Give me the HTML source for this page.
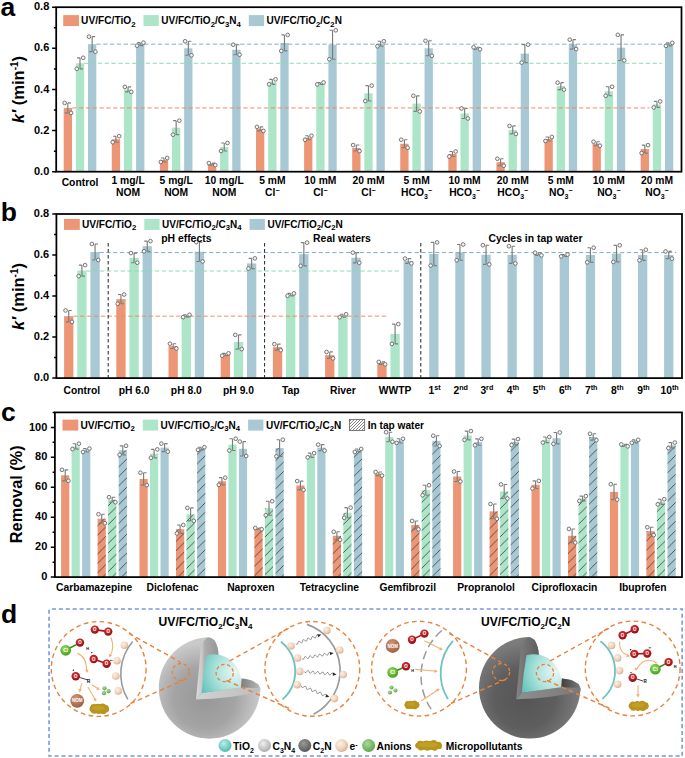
<!DOCTYPE html>
<html><head><meta charset="utf-8"><style>
html,body{margin:0;padding:0;background:#fff;width:685px;height:758px;overflow:hidden}
svg{display:block;font-family:"Liberation Sans", sans-serif}
</style></head><body>
<svg width="685" height="758" viewBox="0 0 685 758">
<defs>
<pattern id="hatch" patternUnits="userSpaceOnUse" width="9.4" height="9.4" x="0" y="3">
<path d="M-1 10.4L10.4 -1M-1 1L1 -1M8.4 10.4L10.4 8.4" stroke="#3a3a3a" stroke-width="0.8"/>
</pattern>
<pattern id="hatchL" patternUnits="userSpaceOnUse" width="3" height="3">
<path d="M0 3L3 0M-1 1L1 -1M2 4L4 2" stroke="#666" stroke-width="0.8"/>
</pattern>
<radialGradient id="sph1" gradientUnits="objectBoundingBox" cx="0.45" cy="0.6" r="0.55"><stop offset="0" stop-color="#979797"/><stop offset="0.55" stop-color="#a4a4a4"/><stop offset="1" stop-color="#cacaca"/></radialGradient>
<radialGradient id="sph2" gradientUnits="objectBoundingBox" cx="0.45" cy="0.6" r="0.55"><stop offset="0" stop-color="#555"/><stop offset="0.55" stop-color="#5e5e5e"/><stop offset="1" stop-color="#7c7c7c"/></radialGradient>
<linearGradient id="vf1" x1="0" y1="0" x2="1" y2="0"><stop offset="0" stop-color="#dcdcdc"/><stop offset="0.25" stop-color="#cacaca"/><stop offset="0.4" stop-color="#acacac"/><stop offset="1" stop-color="#959595"/></linearGradient>
<linearGradient id="vf2" x1="0" y1="0" x2="1" y2="0"><stop offset="0" stop-color="#848484"/><stop offset="0.3" stop-color="#767676"/><stop offset="1" stop-color="#5e5e5e"/></linearGradient>
<linearGradient id="hf1" x1="0" y1="0" x2="1" y2="0"><stop offset="0" stop-color="#d2d2d2"/><stop offset="1" stop-color="#bdbdbd"/></linearGradient>
<linearGradient id="hf2" x1="0" y1="0" x2="1" y2="0"><stop offset="0" stop-color="#8e8e8e"/><stop offset="1" stop-color="#7a7a7a"/></linearGradient>
<linearGradient id="is1" x1="0" y1="0" x2="1" y2="0"><stop offset="0" stop-color="#7e7e7e"/><stop offset="1" stop-color="#b8b8b8"/></linearGradient>
<linearGradient id="is2" x1="0" y1="0" x2="1" y2="0"><stop offset="0" stop-color="#3e3e3e"/><stop offset="1" stop-color="#7a7a7a"/></linearGradient>
<radialGradient id="core" gradientUnits="objectBoundingBox" cx="0.85" cy="0.45" r="1"><stop offset="0" stop-color="#e8f7f5"/><stop offset="0.5" stop-color="#ade2dc"/><stop offset="1" stop-color="#5cc0b8"/></radialGradient>
<radialGradient id="gE" cx="0.38" cy="0.35" r="0.7"><stop offset="0" stop-color="#fcf1e8"/><stop offset="0.6" stop-color="#efd2bc"/><stop offset="1" stop-color="#d9a888"/></radialGradient>
<radialGradient id="gO" cx="0.4" cy="0.35" r="0.7"><stop offset="0" stop-color="#e33a3a"/><stop offset="1" stop-color="#8c0a10"/></radialGradient>
<radialGradient id="gCl" cx="0.4" cy="0.35" r="0.7"><stop offset="0" stop-color="#9be05a"/><stop offset="1" stop-color="#3e9a1c"/></radialGradient>
<radialGradient id="gNOM" cx="0.4" cy="0.35" r="0.7"><stop offset="0" stop-color="#d59a7c"/><stop offset="1" stop-color="#9a5a3c"/></radialGradient>
<radialGradient id="gAn" cx="0.4" cy="0.35" r="0.7"><stop offset="0" stop-color="#a8dc98"/><stop offset="1" stop-color="#5aa04a"/></radialGradient>
<radialGradient id="gTiL" cx="0.4" cy="0.35" r="0.7"><stop offset="0" stop-color="#b8f0ea"/><stop offset="1" stop-color="#4cb8ae"/></radialGradient>
<radialGradient id="gC3L" cx="0.4" cy="0.35" r="0.7"><stop offset="0" stop-color="#f0f0f0"/><stop offset="1" stop-color="#a8a8a8"/></radialGradient>
<radialGradient id="gC2L" cx="0.4" cy="0.35" r="0.7"><stop offset="0" stop-color="#9a9a9a"/><stop offset="1" stop-color="#555"/></radialGradient>
</defs><rect width="685" height="758" fill="#fff"/><rect x="63.7" y="107.93" width="8.3" height="63.77" fill="#ec9676"/><rect x="75.85" y="63.3" width="8.3" height="108.4" fill="#ace5c7"/><rect x="88" y="44.17" width="8.3" height="127.53" fill="#a8c9d3"/><rect x="111.78" y="139.2" width="8.3" height="32.5" fill="#ec9676"/><rect x="123.93" y="89.42" width="8.3" height="82.28" fill="#ace5c7"/><rect x="136.08" y="44.17" width="8.3" height="127.53" fill="#a8c9d3"/><rect x="159.86" y="159.98" width="8.3" height="11.72" fill="#ec9676"/><rect x="172.01" y="127.68" width="8.3" height="44.02" fill="#ace5c7"/><rect x="184.16" y="48.28" width="8.3" height="123.42" fill="#a8c9d3"/><rect x="207.94" y="164.09" width="8.3" height="7.61" fill="#ec9676"/><rect x="220.09" y="147.02" width="8.3" height="24.68" fill="#ace5c7"/><rect x="232.24" y="49.72" width="8.3" height="121.98" fill="#a8c9d3"/><rect x="256.02" y="128.91" width="8.3" height="42.79" fill="#ec9676"/><rect x="268.17" y="81.81" width="8.3" height="89.89" fill="#ace5c7"/><rect x="280.32" y="42.93" width="8.3" height="128.77" fill="#a8c9d3"/><rect x="304.1" y="137.76" width="8.3" height="33.94" fill="#ec9676"/><rect x="316.25" y="83.45" width="8.3" height="88.25" fill="#ace5c7"/><rect x="328.4" y="44.78" width="8.3" height="126.92" fill="#a8c9d3"/><rect x="352.18" y="148.04" width="8.3" height="23.66" fill="#ec9676"/><rect x="364.33" y="93.33" width="8.3" height="78.37" fill="#ace5c7"/><rect x="376.48" y="43.75" width="8.3" height="127.95" fill="#a8c9d3"/><rect x="400.26" y="143.72" width="8.3" height="27.98" fill="#ec9676"/><rect x="412.41" y="103.61" width="8.3" height="68.09" fill="#ace5c7"/><rect x="424.56" y="48.28" width="8.3" height="123.42" fill="#a8c9d3"/><rect x="448.34" y="154.01" width="8.3" height="17.69" fill="#ec9676"/><rect x="460.49" y="113.49" width="8.3" height="58.21" fill="#ace5c7"/><rect x="472.64" y="48.28" width="8.3" height="123.42" fill="#a8c9d3"/><rect x="496.42" y="162.24" width="8.3" height="9.46" fill="#ec9676"/><rect x="508.57" y="129.94" width="8.3" height="41.76" fill="#ace5c7"/><rect x="520.72" y="53.63" width="8.3" height="118.07" fill="#a8c9d3"/><rect x="544.5" y="138.99" width="8.3" height="32.71" fill="#ec9676"/><rect x="556.65" y="86.13" width="8.3" height="85.57" fill="#ace5c7"/><rect x="568.8" y="44.37" width="8.3" height="127.33" fill="#a8c9d3"/><rect x="592.58" y="143.72" width="8.3" height="27.98" fill="#ec9676"/><rect x="604.73" y="91.27" width="8.3" height="80.43" fill="#ace5c7"/><rect x="616.88" y="47.66" width="8.3" height="124.04" fill="#a8c9d3"/><rect x="640.66" y="149.07" width="8.3" height="22.63" fill="#ec9676"/><rect x="652.81" y="104.44" width="8.3" height="67.26" fill="#ace5c7"/><rect x="664.96" y="44.37" width="8.3" height="127.33" fill="#a8c9d3"/><path d="M72.1 107.93H649.5" stroke="#e88a62" stroke-width="0.95" stroke-dasharray="4.3 2.55" fill="none"/><path d="M84.1 63.3H662" stroke="#8cd8b0" stroke-width="0.95" stroke-dasharray="4.3 2.55" fill="none"/><path d="M96.3 44.17H674" stroke="#80aabb" stroke-width="0.95" stroke-dasharray="4.3 2.55" fill="none"/><path d="M67.85 102.93V112.93M67.85 102.93H70.85M64.85 112.93H67.85" stroke="#7c7c7c" stroke-width="1.15" fill="none"/><circle cx="64.65" cy="102.93" r="1.85" fill="#f4f4f4" stroke="#595959" stroke-width="0.8"/><circle cx="71.05" cy="112.93" r="1.85" fill="#f4f4f4" stroke="#595959" stroke-width="0.8"/><path d="M80 57.8V68.8M80 57.8H77M83 68.8H80" stroke="#7c7c7c" stroke-width="1.15" fill="none"/><circle cx="83.2" cy="57.8" r="1.85" fill="#f4f4f4" stroke="#595959" stroke-width="0.8"/><circle cx="76.8" cy="68.8" r="1.85" fill="#f4f4f4" stroke="#595959" stroke-width="0.8"/><path d="M92.15 36.67V51.67M92.15 36.67H95.15M89.15 51.67H92.15" stroke="#7c7c7c" stroke-width="1.15" fill="none"/><circle cx="88.95" cy="36.67" r="1.85" fill="#f4f4f4" stroke="#595959" stroke-width="0.8"/><circle cx="95.35" cy="51.67" r="1.85" fill="#f4f4f4" stroke="#595959" stroke-width="0.8"/><path d="M115.93 136.2V142.2M115.93 136.2H112.93M118.93 142.2H115.93" stroke="#7c7c7c" stroke-width="1.15" fill="none"/><circle cx="119.13" cy="136.2" r="1.85" fill="#f4f4f4" stroke="#595959" stroke-width="0.8"/><circle cx="112.73" cy="142.2" r="1.85" fill="#f4f4f4" stroke="#595959" stroke-width="0.8"/><path d="M128.08 86.92V91.92M128.08 86.92H131.08M125.08 91.92H128.08" stroke="#7c7c7c" stroke-width="1.15" fill="none"/><circle cx="124.88" cy="86.92" r="1.85" fill="#f4f4f4" stroke="#595959" stroke-width="0.8"/><circle cx="131.28" cy="91.92" r="1.85" fill="#f4f4f4" stroke="#595959" stroke-width="0.8"/><path d="M140.23 42.67V45.67M140.23 42.67H137.23M143.23 45.67H140.23" stroke="#7c7c7c" stroke-width="1.15" fill="none"/><circle cx="143.43" cy="42.67" r="1.85" fill="#f4f4f4" stroke="#595959" stroke-width="0.8"/><circle cx="137.03" cy="45.67" r="1.85" fill="#f4f4f4" stroke="#595959" stroke-width="0.8"/><path d="M164.01 157.98V161.98M164.01 157.98H161.01M167.01 161.98H164.01" stroke="#7c7c7c" stroke-width="1.15" fill="none"/><circle cx="167.21" cy="157.98" r="1.85" fill="#f4f4f4" stroke="#595959" stroke-width="0.8"/><circle cx="160.81" cy="161.98" r="1.85" fill="#f4f4f4" stroke="#595959" stroke-width="0.8"/><path d="M176.16 120.68V134.68M176.16 120.68H173.16M179.16 134.68H176.16" stroke="#7c7c7c" stroke-width="1.15" fill="none"/><circle cx="179.36" cy="120.68" r="1.85" fill="#f4f4f4" stroke="#595959" stroke-width="0.8"/><circle cx="172.96" cy="134.68" r="1.85" fill="#f4f4f4" stroke="#595959" stroke-width="0.8"/><path d="M188.31 41.28V55.28M188.31 41.28H191.31M185.31 55.28H188.31" stroke="#7c7c7c" stroke-width="1.15" fill="none"/><circle cx="185.11" cy="41.28" r="1.85" fill="#f4f4f4" stroke="#595959" stroke-width="0.8"/><circle cx="191.51" cy="55.28" r="1.85" fill="#f4f4f4" stroke="#595959" stroke-width="0.8"/><path d="M212.09 163.09V165.09M212.09 163.09H215.09M209.09 165.09H212.09" stroke="#7c7c7c" stroke-width="1.15" fill="none"/><circle cx="208.89" cy="163.09" r="1.85" fill="#f4f4f4" stroke="#595959" stroke-width="0.8"/><circle cx="215.29" cy="165.09" r="1.85" fill="#f4f4f4" stroke="#595959" stroke-width="0.8"/><path d="M224.24 143.02V151.02M224.24 143.02H221.24M227.24 151.02H224.24" stroke="#7c7c7c" stroke-width="1.15" fill="none"/><circle cx="227.44" cy="143.02" r="1.85" fill="#f4f4f4" stroke="#595959" stroke-width="0.8"/><circle cx="221.04" cy="151.02" r="1.85" fill="#f4f4f4" stroke="#595959" stroke-width="0.8"/><path d="M236.39 44.72V54.72M236.39 44.72H239.39M233.39 54.72H236.39" stroke="#7c7c7c" stroke-width="1.15" fill="none"/><circle cx="233.19" cy="44.72" r="1.85" fill="#f4f4f4" stroke="#595959" stroke-width="0.8"/><circle cx="239.59" cy="54.72" r="1.85" fill="#f4f4f4" stroke="#595959" stroke-width="0.8"/><path d="M260.17 126.91V130.91M260.17 126.91H263.17M257.17 130.91H260.17" stroke="#7c7c7c" stroke-width="1.15" fill="none"/><circle cx="256.97" cy="126.91" r="1.85" fill="#f4f4f4" stroke="#595959" stroke-width="0.8"/><circle cx="263.37" cy="130.91" r="1.85" fill="#f4f4f4" stroke="#595959" stroke-width="0.8"/><path d="M272.32 79.31V84.31M272.32 79.31H269.32M275.32 84.31H272.32" stroke="#7c7c7c" stroke-width="1.15" fill="none"/><circle cx="275.52" cy="79.31" r="1.85" fill="#f4f4f4" stroke="#595959" stroke-width="0.8"/><circle cx="269.12" cy="84.31" r="1.85" fill="#f4f4f4" stroke="#595959" stroke-width="0.8"/><path d="M284.47 34.93V50.93M284.47 34.93H281.47M287.47 50.93H284.47" stroke="#7c7c7c" stroke-width="1.15" fill="none"/><circle cx="287.67" cy="34.93" r="1.85" fill="#f4f4f4" stroke="#595959" stroke-width="0.8"/><circle cx="281.27" cy="50.93" r="1.85" fill="#f4f4f4" stroke="#595959" stroke-width="0.8"/><path d="M308.25 135.76V139.76M308.25 135.76H305.25M311.25 139.76H308.25" stroke="#7c7c7c" stroke-width="1.15" fill="none"/><circle cx="311.45" cy="135.76" r="1.85" fill="#f4f4f4" stroke="#595959" stroke-width="0.8"/><circle cx="305.05" cy="139.76" r="1.85" fill="#f4f4f4" stroke="#595959" stroke-width="0.8"/><path d="M320.4 82.45V84.45M320.4 82.45H317.4M323.4 84.45H320.4" stroke="#7c7c7c" stroke-width="1.15" fill="none"/><circle cx="323.6" cy="82.45" r="1.85" fill="#f4f4f4" stroke="#595959" stroke-width="0.8"/><circle cx="317.2" cy="84.45" r="1.85" fill="#f4f4f4" stroke="#595959" stroke-width="0.8"/><path d="M332.55 30.28V59.28M332.55 30.28H329.55M335.55 59.28H332.55" stroke="#7c7c7c" stroke-width="1.15" fill="none"/><circle cx="335.75" cy="30.28" r="1.85" fill="#f4f4f4" stroke="#595959" stroke-width="0.8"/><circle cx="329.35" cy="59.28" r="1.85" fill="#f4f4f4" stroke="#595959" stroke-width="0.8"/><path d="M356.33 145.04V151.04M356.33 145.04H359.33M353.33 151.04H356.33" stroke="#7c7c7c" stroke-width="1.15" fill="none"/><circle cx="353.13" cy="145.04" r="1.85" fill="#f4f4f4" stroke="#595959" stroke-width="0.8"/><circle cx="359.53" cy="151.04" r="1.85" fill="#f4f4f4" stroke="#595959" stroke-width="0.8"/><path d="M368.48 85.63V101.03M368.48 85.63H365.48M371.48 101.03H368.48" stroke="#7c7c7c" stroke-width="1.15" fill="none"/><circle cx="371.68" cy="85.63" r="1.85" fill="#f4f4f4" stroke="#595959" stroke-width="0.8"/><circle cx="365.28" cy="101.03" r="1.85" fill="#f4f4f4" stroke="#595959" stroke-width="0.8"/><path d="M380.63 41.25V46.25M380.63 41.25H377.63M383.63 46.25H380.63" stroke="#7c7c7c" stroke-width="1.15" fill="none"/><circle cx="383.83" cy="41.25" r="1.85" fill="#f4f4f4" stroke="#595959" stroke-width="0.8"/><circle cx="377.43" cy="46.25" r="1.85" fill="#f4f4f4" stroke="#595959" stroke-width="0.8"/><path d="M404.41 139.72V147.72M404.41 139.72H407.41M401.41 147.72H404.41" stroke="#7c7c7c" stroke-width="1.15" fill="none"/><circle cx="401.21" cy="139.72" r="1.85" fill="#f4f4f4" stroke="#595959" stroke-width="0.8"/><circle cx="407.61" cy="147.72" r="1.85" fill="#f4f4f4" stroke="#595959" stroke-width="0.8"/><path d="M416.56 95.81V111.41M416.56 95.81H419.56M413.56 111.41H416.56" stroke="#7c7c7c" stroke-width="1.15" fill="none"/><circle cx="413.36" cy="95.81" r="1.85" fill="#f4f4f4" stroke="#595959" stroke-width="0.8"/><circle cx="419.76" cy="111.41" r="1.85" fill="#f4f4f4" stroke="#595959" stroke-width="0.8"/><path d="M428.71 40.78V55.78M428.71 40.78H431.71M425.71 55.78H428.71" stroke="#7c7c7c" stroke-width="1.15" fill="none"/><circle cx="425.51" cy="40.78" r="1.85" fill="#f4f4f4" stroke="#595959" stroke-width="0.8"/><circle cx="431.91" cy="55.78" r="1.85" fill="#f4f4f4" stroke="#595959" stroke-width="0.8"/><path d="M452.49 151.51V156.51M452.49 151.51H449.49M455.49 156.51H452.49" stroke="#7c7c7c" stroke-width="1.15" fill="none"/><circle cx="455.69" cy="151.51" r="1.85" fill="#f4f4f4" stroke="#595959" stroke-width="0.8"/><circle cx="449.29" cy="156.51" r="1.85" fill="#f4f4f4" stroke="#595959" stroke-width="0.8"/><path d="M464.64 108.49V118.49M464.64 108.49H467.64M461.64 118.49H464.64" stroke="#7c7c7c" stroke-width="1.15" fill="none"/><circle cx="461.44" cy="108.49" r="1.85" fill="#f4f4f4" stroke="#595959" stroke-width="0.8"/><circle cx="467.84" cy="118.49" r="1.85" fill="#f4f4f4" stroke="#595959" stroke-width="0.8"/><path d="M476.79 47.28V49.28M476.79 47.28H479.79M473.79 49.28H476.79" stroke="#7c7c7c" stroke-width="1.15" fill="none"/><circle cx="473.59" cy="47.28" r="1.85" fill="#f4f4f4" stroke="#595959" stroke-width="0.8"/><circle cx="479.99" cy="49.28" r="1.85" fill="#f4f4f4" stroke="#595959" stroke-width="0.8"/><path d="M500.57 158.74V165.74M500.57 158.74H503.57M497.57 165.74H500.57" stroke="#7c7c7c" stroke-width="1.15" fill="none"/><circle cx="497.37" cy="158.74" r="1.85" fill="#f4f4f4" stroke="#595959" stroke-width="0.8"/><circle cx="503.77" cy="165.74" r="1.85" fill="#f4f4f4" stroke="#595959" stroke-width="0.8"/><path d="M512.72 125.94V133.94M512.72 125.94H515.72M509.72 133.94H512.72" stroke="#7c7c7c" stroke-width="1.15" fill="none"/><circle cx="509.52" cy="125.94" r="1.85" fill="#f4f4f4" stroke="#595959" stroke-width="0.8"/><circle cx="515.92" cy="133.94" r="1.85" fill="#f4f4f4" stroke="#595959" stroke-width="0.8"/><path d="M524.87 44.63V62.63M524.87 44.63H521.87M527.87 62.63H524.87" stroke="#7c7c7c" stroke-width="1.15" fill="none"/><circle cx="528.07" cy="44.63" r="1.85" fill="#f4f4f4" stroke="#595959" stroke-width="0.8"/><circle cx="521.67" cy="62.63" r="1.85" fill="#f4f4f4" stroke="#595959" stroke-width="0.8"/><path d="M548.65 136.99V140.99M548.65 136.99H545.65M551.65 140.99H548.65" stroke="#7c7c7c" stroke-width="1.15" fill="none"/><circle cx="551.85" cy="136.99" r="1.85" fill="#f4f4f4" stroke="#595959" stroke-width="0.8"/><circle cx="545.45" cy="140.99" r="1.85" fill="#f4f4f4" stroke="#595959" stroke-width="0.8"/><path d="M560.8 82.63V89.63M560.8 82.63H563.8M557.8 89.63H560.8" stroke="#7c7c7c" stroke-width="1.15" fill="none"/><circle cx="557.6" cy="82.63" r="1.85" fill="#f4f4f4" stroke="#595959" stroke-width="0.8"/><circle cx="564" cy="89.63" r="1.85" fill="#f4f4f4" stroke="#595959" stroke-width="0.8"/><path d="M572.95 39.67V49.07M572.95 39.67H575.95M569.95 49.07H572.95" stroke="#7c7c7c" stroke-width="1.15" fill="none"/><circle cx="569.75" cy="39.67" r="1.85" fill="#f4f4f4" stroke="#595959" stroke-width="0.8"/><circle cx="576.15" cy="49.07" r="1.85" fill="#f4f4f4" stroke="#595959" stroke-width="0.8"/><path d="M596.73 141.72V145.72M596.73 141.72H599.73M593.73 145.72H596.73" stroke="#7c7c7c" stroke-width="1.15" fill="none"/><circle cx="593.53" cy="141.72" r="1.85" fill="#f4f4f4" stroke="#595959" stroke-width="0.8"/><circle cx="599.93" cy="145.72" r="1.85" fill="#f4f4f4" stroke="#595959" stroke-width="0.8"/><path d="M608.88 86.77V95.77M608.88 86.77H605.88M611.88 95.77H608.88" stroke="#7c7c7c" stroke-width="1.15" fill="none"/><circle cx="612.08" cy="86.77" r="1.85" fill="#f4f4f4" stroke="#595959" stroke-width="0.8"/><circle cx="605.68" cy="95.77" r="1.85" fill="#f4f4f4" stroke="#595959" stroke-width="0.8"/><path d="M621.03 34.86V60.46M621.03 34.86H624.03M618.03 60.46H621.03" stroke="#7c7c7c" stroke-width="1.15" fill="none"/><circle cx="617.83" cy="34.86" r="1.85" fill="#f4f4f4" stroke="#595959" stroke-width="0.8"/><circle cx="624.23" cy="60.46" r="1.85" fill="#f4f4f4" stroke="#595959" stroke-width="0.8"/><path d="M644.81 145.07V153.07M644.81 145.07H641.81M647.81 153.07H644.81" stroke="#7c7c7c" stroke-width="1.15" fill="none"/><circle cx="648.01" cy="145.07" r="1.85" fill="#f4f4f4" stroke="#595959" stroke-width="0.8"/><circle cx="641.61" cy="153.07" r="1.85" fill="#f4f4f4" stroke="#595959" stroke-width="0.8"/><path d="M656.96 101.44V107.44M656.96 101.44H653.96M659.96 107.44H656.96" stroke="#7c7c7c" stroke-width="1.15" fill="none"/><circle cx="660.16" cy="101.44" r="1.85" fill="#f4f4f4" stroke="#595959" stroke-width="0.8"/><circle cx="653.76" cy="107.44" r="1.85" fill="#f4f4f4" stroke="#595959" stroke-width="0.8"/><path d="M669.11 42.87V45.87M669.11 42.87H666.11M672.11 45.87H669.11" stroke="#7c7c7c" stroke-width="1.15" fill="none"/><circle cx="672.31" cy="42.87" r="1.85" fill="#f4f4f4" stroke="#595959" stroke-width="0.8"/><circle cx="665.91" cy="45.87" r="1.85" fill="#f4f4f4" stroke="#595959" stroke-width="0.8"/><rect x="56.2" y="7.2" width="625.3" height="164.5" fill="none" stroke="#000" stroke-width="1.75"/><path d="M52.1 171.7H56.2M53.9 151.14H56.2M52.1 130.57H56.2M53.9 110.01H56.2M52.1 89.45H56.2M53.9 68.89H56.2M52.1 48.32H56.2M53.9 27.76H56.2M52.1 7.2H56.2" stroke="#000" stroke-width="1.5" fill="none"/><text x="49.3" y="174.8" font-size="11" text-anchor="end" font-weight="bold">0.0</text><text x="49.3" y="133.67" font-size="11" text-anchor="end" font-weight="bold">0.2</text><text x="49.3" y="92.55" font-size="11" text-anchor="end" font-weight="bold">0.4</text><text x="49.3" y="51.42" font-size="11" text-anchor="end" font-weight="bold">0.6</text><text x="49.3" y="10.3" font-size="11" text-anchor="end" font-weight="bold">0.8</text><rect x="63.2" y="15.1" width="15.8" height="11" fill="#ec9676"/><text x="81.1" y="24.3" font-size="10.4" font-weight="bold" textLength="54.4" lengthAdjust="spacingAndGlyphs">UV/FC/TiO<tspan dy="2.2" font-size="8">2</tspan></text><rect x="143.5" y="15.1" width="15.3" height="11" fill="#ace5c7"/><text x="161.3" y="24.3" font-size="10.4" font-weight="bold" textLength="79.5" lengthAdjust="spacingAndGlyphs">UV/FC/TiO<tspan dy="2.2" font-size="8">2</tspan><tspan dy="-2.2">/C</tspan><tspan dy="2.2" font-size="8">3</tspan><tspan dy="-2.2">N</tspan><tspan dy="2.2" font-size="8">4</tspan></text><rect x="248.8" y="15.1" width="15.3" height="11" fill="#a8c9d3"/><text x="266.6" y="24.3" font-size="10.4" font-weight="bold" textLength="75.3" lengthAdjust="spacingAndGlyphs">UV/FC/TiO<tspan dy="2.2" font-size="8">2</tspan><tspan dy="-2.2">/C</tspan><tspan dy="2.2" font-size="8">2</tspan><tspan dy="-2.2">N</tspan></text><text x="80" y="185.5" font-size="10.3" text-anchor="middle" font-weight="bold">Control</text><text x="128.08" y="184.4" font-size="10.3" text-anchor="middle" font-weight="bold">1 mg/L</text><text x="128.08" y="196.4" font-size="10.3" text-anchor="middle" font-weight="bold">NOM</text><text x="176.16" y="184.4" font-size="10.3" text-anchor="middle" font-weight="bold">5 mg/L</text><text x="176.16" y="196.4" font-size="10.3" text-anchor="middle" font-weight="bold">NOM</text><text x="224.24" y="184.4" font-size="10.3" text-anchor="middle" font-weight="bold">10 mg/L</text><text x="224.24" y="196.4" font-size="10.3" text-anchor="middle" font-weight="bold">NOM</text><text x="272.32" y="184.4" font-size="10.3" text-anchor="middle" font-weight="bold">5 mM</text><text x="272.32" y="196.4" font-size="10.3" text-anchor="middle" font-weight="bold">Cl<tspan font-size="7" dy="-3.5">&#8722;</tspan></text><text x="320.4" y="184.4" font-size="10.3" text-anchor="middle" font-weight="bold">10 mM</text><text x="320.4" y="196.4" font-size="10.3" text-anchor="middle" font-weight="bold">Cl<tspan font-size="7" dy="-3.5">&#8722;</tspan></text><text x="368.48" y="184.4" font-size="10.3" text-anchor="middle" font-weight="bold">20 mM</text><text x="368.48" y="196.4" font-size="10.3" text-anchor="middle" font-weight="bold">Cl<tspan font-size="7" dy="-3.5">&#8722;</tspan></text><text x="416.56" y="184.4" font-size="10.3" text-anchor="middle" font-weight="bold">5 mM</text><text x="416.56" y="196.4" font-size="10.3" text-anchor="middle" font-weight="bold">HCO<tspan font-size="7" dy="2.5">3</tspan><tspan font-size="7" dy="-6">&#8722;</tspan></text><text x="464.64" y="184.4" font-size="10.3" text-anchor="middle" font-weight="bold">10 mM</text><text x="464.64" y="196.4" font-size="10.3" text-anchor="middle" font-weight="bold">HCO<tspan font-size="7" dy="2.5">3</tspan><tspan font-size="7" dy="-6">&#8722;</tspan></text><text x="512.72" y="184.4" font-size="10.3" text-anchor="middle" font-weight="bold">20 mM</text><text x="512.72" y="196.4" font-size="10.3" text-anchor="middle" font-weight="bold">HCO<tspan font-size="7" dy="2.5">3</tspan><tspan font-size="7" dy="-6">&#8722;</tspan></text><text x="560.8" y="184.4" font-size="10.3" text-anchor="middle" font-weight="bold">5 mM</text><text x="560.8" y="196.4" font-size="10.3" text-anchor="middle" font-weight="bold">NO<tspan font-size="7" dy="2.5">3</tspan><tspan font-size="7" dy="-6">&#8722;</tspan></text><text x="608.88" y="184.4" font-size="10.3" text-anchor="middle" font-weight="bold">10 mM</text><text x="608.88" y="196.4" font-size="10.3" text-anchor="middle" font-weight="bold">NO<tspan font-size="7" dy="2.5">3</tspan><tspan font-size="7" dy="-6">&#8722;</tspan></text><text x="656.96" y="184.4" font-size="10.3" text-anchor="middle" font-weight="bold">20 mM</text><text x="656.96" y="196.4" font-size="10.3" text-anchor="middle" font-weight="bold">NO<tspan font-size="7" dy="2.5">3</tspan><tspan font-size="7" dy="-6">&#8722;</tspan></text><text transform="translate(24.3 89.4) rotate(-90)" font-size="16.5" text-anchor="middle" font-weight="bold"><tspan font-style="italic">k&#8242;</tspan> (min<tspan font-size="10" dy="-6">-1</tspan><tspan dy="6">)</tspan></text><text x="0.6" y="16" font-size="26.5" text-anchor="start" font-weight="bold">a</text><rect x="64.1" y="316.16" width="9.3" height="61.94" fill="#ec9676"/><rect x="77.25" y="270.63" width="9.3" height="107.47" fill="#ace5c7"/><rect x="90.4" y="251.96" width="9.3" height="126.14" fill="#a8c9d3"/><rect x="116.3" y="299.14" width="9.3" height="78.96" fill="#ec9676"/><rect x="129.45" y="257.91" width="9.3" height="120.19" fill="#ace5c7"/><rect x="142.6" y="246.22" width="9.3" height="131.88" fill="#a8c9d3"/><rect x="168.5" y="346.1" width="9.3" height="32" fill="#ec9676"/><rect x="181.65" y="315.95" width="9.3" height="62.15" fill="#ace5c7"/><rect x="194.8" y="251.76" width="9.3" height="126.34" fill="#a8c9d3"/><rect x="220.7" y="354.51" width="9.3" height="23.59" fill="#ec9676"/><rect x="233.85" y="342" width="9.3" height="36.1" fill="#ace5c7"/><rect x="247" y="263.45" width="9.3" height="114.65" fill="#a8c9d3"/><rect x="272.9" y="347.13" width="9.3" height="30.97" fill="#ec9676"/><rect x="286.05" y="294.62" width="9.3" height="83.48" fill="#ace5c7"/><rect x="299.2" y="254.22" width="9.3" height="123.88" fill="#a8c9d3"/><rect x="325.1" y="355.13" width="9.3" height="22.97" fill="#ec9676"/><rect x="338.25" y="315.75" width="9.3" height="62.35" fill="#ace5c7"/><rect x="351.4" y="257.71" width="9.3" height="120.39" fill="#a8c9d3"/><rect x="377.3" y="363.13" width="9.3" height="14.97" fill="#ec9676"/><rect x="390.45" y="334" width="9.3" height="44.1" fill="#ace5c7"/><rect x="403.6" y="260.99" width="9.3" height="117.11" fill="#a8c9d3"/><rect x="429.2" y="254.01" width="9.3" height="124.09" fill="#a8c9d3"/><rect x="455.3" y="252.37" width="9.3" height="125.73" fill="#a8c9d3"/><rect x="481.4" y="254.83" width="9.3" height="123.27" fill="#a8c9d3"/><rect x="507.5" y="254.83" width="9.3" height="123.27" fill="#a8c9d3"/><rect x="533.6" y="254.01" width="9.3" height="124.09" fill="#a8c9d3"/><rect x="559.7" y="255.45" width="9.3" height="122.65" fill="#a8c9d3"/><rect x="585.8" y="255.04" width="9.3" height="123.06" fill="#a8c9d3"/><rect x="611.9" y="253.6" width="9.3" height="124.5" fill="#a8c9d3"/><rect x="638" y="255.04" width="9.3" height="123.06" fill="#a8c9d3"/><rect x="664.1" y="255.04" width="9.3" height="123.06" fill="#a8c9d3"/><path d="M73.4 316.16H386.5" stroke="#e88a62" stroke-width="0.95" stroke-dasharray="4.3 2.55" fill="none"/><path d="M86.4 271.04H399.5" stroke="#8cd8b0" stroke-width="0.95" stroke-dasharray="4.3 2.55" fill="none"/><path d="M99.4 252.58H676" stroke="#80aabb" stroke-width="0.95" stroke-dasharray="4.3 2.55" fill="none"/><path d="M68.75 310.46V321.86M68.75 310.46H71.75M65.75 321.86H68.75" stroke="#7c7c7c" stroke-width="1.15" fill="none"/><circle cx="65.55" cy="310.46" r="1.85" fill="#f4f4f4" stroke="#595959" stroke-width="0.8"/><circle cx="71.95" cy="321.86" r="1.85" fill="#f4f4f4" stroke="#595959" stroke-width="0.8"/><path d="M81.9 265.13V276.13M81.9 265.13H78.9M84.9 276.13H81.9" stroke="#7c7c7c" stroke-width="1.15" fill="none"/><circle cx="85.1" cy="265.13" r="1.85" fill="#f4f4f4" stroke="#595959" stroke-width="0.8"/><circle cx="78.7" cy="276.13" r="1.85" fill="#f4f4f4" stroke="#595959" stroke-width="0.8"/><path d="M95.05 243.96V259.96M95.05 243.96H98.05M92.05 259.96H95.05" stroke="#7c7c7c" stroke-width="1.15" fill="none"/><circle cx="91.85" cy="243.96" r="1.85" fill="#f4f4f4" stroke="#595959" stroke-width="0.8"/><circle cx="98.25" cy="259.96" r="1.85" fill="#f4f4f4" stroke="#595959" stroke-width="0.8"/><path d="M120.95 294.54V303.74M120.95 294.54H117.95M123.95 303.74H120.95" stroke="#7c7c7c" stroke-width="1.15" fill="none"/><circle cx="124.15" cy="294.54" r="1.85" fill="#f4f4f4" stroke="#595959" stroke-width="0.8"/><circle cx="117.75" cy="303.74" r="1.85" fill="#f4f4f4" stroke="#595959" stroke-width="0.8"/><path d="M134.1 253.11V262.71M134.1 253.11H137.1M131.1 262.71H134.1" stroke="#7c7c7c" stroke-width="1.15" fill="none"/><circle cx="130.9" cy="253.11" r="1.85" fill="#f4f4f4" stroke="#595959" stroke-width="0.8"/><circle cx="137.3" cy="262.71" r="1.85" fill="#f4f4f4" stroke="#595959" stroke-width="0.8"/><path d="M147.25 241.12V251.32M147.25 241.12H144.25M150.25 251.32H147.25" stroke="#7c7c7c" stroke-width="1.15" fill="none"/><circle cx="150.45" cy="241.12" r="1.85" fill="#f4f4f4" stroke="#595959" stroke-width="0.8"/><circle cx="144.05" cy="251.32" r="1.85" fill="#f4f4f4" stroke="#595959" stroke-width="0.8"/><path d="M173.15 343.7V348.5M173.15 343.7H176.15M170.15 348.5H173.15" stroke="#7c7c7c" stroke-width="1.15" fill="none"/><circle cx="169.95" cy="343.7" r="1.85" fill="#f4f4f4" stroke="#595959" stroke-width="0.8"/><circle cx="176.35" cy="348.5" r="1.85" fill="#f4f4f4" stroke="#595959" stroke-width="0.8"/><path d="M186.3 314.75V317.15M186.3 314.75H183.3M189.3 317.15H186.3" stroke="#7c7c7c" stroke-width="1.15" fill="none"/><circle cx="189.5" cy="314.75" r="1.85" fill="#f4f4f4" stroke="#595959" stroke-width="0.8"/><circle cx="183.1" cy="317.15" r="1.85" fill="#f4f4f4" stroke="#595959" stroke-width="0.8"/><path d="M199.45 242.06V261.46M199.45 242.06H202.45M196.45 261.46H199.45" stroke="#7c7c7c" stroke-width="1.15" fill="none"/><circle cx="196.25" cy="242.06" r="1.85" fill="#f4f4f4" stroke="#595959" stroke-width="0.8"/><circle cx="202.65" cy="261.46" r="1.85" fill="#f4f4f4" stroke="#595959" stroke-width="0.8"/><path d="M225.35 353.31V355.71M225.35 353.31H222.35M228.35 355.71H225.35" stroke="#7c7c7c" stroke-width="1.15" fill="none"/><circle cx="228.55" cy="353.31" r="1.85" fill="#f4f4f4" stroke="#595959" stroke-width="0.8"/><circle cx="222.15" cy="355.71" r="1.85" fill="#f4f4f4" stroke="#595959" stroke-width="0.8"/><path d="M238.5 334.9V349.1M238.5 334.9H241.5M235.5 349.1H238.5" stroke="#7c7c7c" stroke-width="1.15" fill="none"/><circle cx="235.3" cy="334.9" r="1.85" fill="#f4f4f4" stroke="#595959" stroke-width="0.8"/><circle cx="241.7" cy="349.1" r="1.85" fill="#f4f4f4" stroke="#595959" stroke-width="0.8"/><path d="M251.65 258.35V268.55M251.65 258.35H248.65M254.65 268.55H251.65" stroke="#7c7c7c" stroke-width="1.15" fill="none"/><circle cx="254.85" cy="258.35" r="1.85" fill="#f4f4f4" stroke="#595959" stroke-width="0.8"/><circle cx="248.45" cy="268.55" r="1.85" fill="#f4f4f4" stroke="#595959" stroke-width="0.8"/><path d="M277.55 344.13V350.13M277.55 344.13H280.55M274.55 350.13H277.55" stroke="#7c7c7c" stroke-width="1.15" fill="none"/><circle cx="274.35" cy="344.13" r="1.85" fill="#f4f4f4" stroke="#595959" stroke-width="0.8"/><circle cx="280.75" cy="350.13" r="1.85" fill="#f4f4f4" stroke="#595959" stroke-width="0.8"/><path d="M290.7 293.42V295.82M290.7 293.42H287.7M293.7 295.82H290.7" stroke="#7c7c7c" stroke-width="1.15" fill="none"/><circle cx="293.9" cy="293.42" r="1.85" fill="#f4f4f4" stroke="#595959" stroke-width="0.8"/><circle cx="287.5" cy="295.82" r="1.85" fill="#f4f4f4" stroke="#595959" stroke-width="0.8"/><path d="M303.85 242.62V265.82M303.85 242.62H300.85M306.85 265.82H303.85" stroke="#7c7c7c" stroke-width="1.15" fill="none"/><circle cx="307.05" cy="242.62" r="1.85" fill="#f4f4f4" stroke="#595959" stroke-width="0.8"/><circle cx="300.65" cy="265.82" r="1.85" fill="#f4f4f4" stroke="#595959" stroke-width="0.8"/><path d="M329.75 351.93V358.33M329.75 351.93H332.75M326.75 358.33H329.75" stroke="#7c7c7c" stroke-width="1.15" fill="none"/><circle cx="326.55" cy="351.93" r="1.85" fill="#f4f4f4" stroke="#595959" stroke-width="0.8"/><circle cx="332.95" cy="358.33" r="1.85" fill="#f4f4f4" stroke="#595959" stroke-width="0.8"/><path d="M342.9 314.25V317.25M342.9 314.25H339.9M345.9 317.25H342.9" stroke="#7c7c7c" stroke-width="1.15" fill="none"/><circle cx="346.1" cy="314.25" r="1.85" fill="#f4f4f4" stroke="#595959" stroke-width="0.8"/><circle cx="339.7" cy="317.25" r="1.85" fill="#f4f4f4" stroke="#595959" stroke-width="0.8"/><path d="M356.05 252.61V262.81M356.05 252.61H359.05M353.05 262.81H356.05" stroke="#7c7c7c" stroke-width="1.15" fill="none"/><circle cx="352.85" cy="252.61" r="1.85" fill="#f4f4f4" stroke="#595959" stroke-width="0.8"/><circle cx="359.25" cy="262.81" r="1.85" fill="#f4f4f4" stroke="#595959" stroke-width="0.8"/><path d="M381.95 361.93V364.33M381.95 361.93H384.95M378.95 364.33H381.95" stroke="#7c7c7c" stroke-width="1.15" fill="none"/><circle cx="378.75" cy="361.93" r="1.85" fill="#f4f4f4" stroke="#595959" stroke-width="0.8"/><circle cx="385.15" cy="364.33" r="1.85" fill="#f4f4f4" stroke="#595959" stroke-width="0.8"/><path d="M395.1 324.1V343.9M395.1 324.1H392.1M398.1 343.9H395.1" stroke="#7c7c7c" stroke-width="1.15" fill="none"/><circle cx="398.3" cy="324.1" r="1.85" fill="#f4f4f4" stroke="#595959" stroke-width="0.8"/><circle cx="391.9" cy="343.9" r="1.85" fill="#f4f4f4" stroke="#595959" stroke-width="0.8"/><path d="M408.25 258.59V263.39M408.25 258.59H411.25M405.25 263.39H408.25" stroke="#7c7c7c" stroke-width="1.15" fill="none"/><circle cx="405.05" cy="258.59" r="1.85" fill="#f4f4f4" stroke="#595959" stroke-width="0.8"/><circle cx="411.45" cy="263.39" r="1.85" fill="#f4f4f4" stroke="#595959" stroke-width="0.8"/><path d="M433.85 242.41V265.61M433.85 242.41H430.85M436.85 265.61H433.85" stroke="#7c7c7c" stroke-width="1.15" fill="none"/><circle cx="437.05" cy="242.41" r="1.85" fill="#f4f4f4" stroke="#595959" stroke-width="0.8"/><circle cx="430.65" cy="265.61" r="1.85" fill="#f4f4f4" stroke="#595959" stroke-width="0.8"/><path d="M459.95 244.47V260.27M459.95 244.47H456.95M462.95 260.27H459.95" stroke="#7c7c7c" stroke-width="1.15" fill="none"/><circle cx="463.15" cy="244.47" r="1.85" fill="#f4f4f4" stroke="#595959" stroke-width="0.8"/><circle cx="456.75" cy="260.27" r="1.85" fill="#f4f4f4" stroke="#595959" stroke-width="0.8"/><path d="M486.05 245.23V264.43M486.05 245.23H489.05M483.05 264.43H486.05" stroke="#7c7c7c" stroke-width="1.15" fill="none"/><circle cx="482.85" cy="245.23" r="1.85" fill="#f4f4f4" stroke="#595959" stroke-width="0.8"/><circle cx="489.25" cy="264.43" r="1.85" fill="#f4f4f4" stroke="#595959" stroke-width="0.8"/><path d="M512.15 246.23V263.43M512.15 246.23H515.15M509.15 263.43H512.15" stroke="#7c7c7c" stroke-width="1.15" fill="none"/><circle cx="508.95" cy="246.23" r="1.85" fill="#f4f4f4" stroke="#595959" stroke-width="0.8"/><circle cx="515.35" cy="263.43" r="1.85" fill="#f4f4f4" stroke="#595959" stroke-width="0.8"/><path d="M538.25 252.71V255.31M538.25 252.71H541.25M535.25 255.31H538.25" stroke="#7c7c7c" stroke-width="1.15" fill="none"/><circle cx="535.05" cy="252.71" r="1.85" fill="#f4f4f4" stroke="#595959" stroke-width="0.8"/><circle cx="541.45" cy="255.31" r="1.85" fill="#f4f4f4" stroke="#595959" stroke-width="0.8"/><path d="M564.35 254.55V256.35M564.35 254.55H561.35M567.35 256.35H564.35" stroke="#7c7c7c" stroke-width="1.15" fill="none"/><circle cx="567.55" cy="254.55" r="1.85" fill="#f4f4f4" stroke="#595959" stroke-width="0.8"/><circle cx="561.15" cy="256.35" r="1.85" fill="#f4f4f4" stroke="#595959" stroke-width="0.8"/><path d="M590.45 247.74V262.34M590.45 247.74H587.45M593.45 262.34H590.45" stroke="#7c7c7c" stroke-width="1.15" fill="none"/><circle cx="593.65" cy="247.74" r="1.85" fill="#f4f4f4" stroke="#595959" stroke-width="0.8"/><circle cx="587.25" cy="262.34" r="1.85" fill="#f4f4f4" stroke="#595959" stroke-width="0.8"/><path d="M616.55 245.3V261.9M616.55 245.3H613.55M619.55 261.9H616.55" stroke="#7c7c7c" stroke-width="1.15" fill="none"/><circle cx="619.75" cy="245.3" r="1.85" fill="#f4f4f4" stroke="#595959" stroke-width="0.8"/><circle cx="613.35" cy="261.9" r="1.85" fill="#f4f4f4" stroke="#595959" stroke-width="0.8"/><path d="M642.65 249.74V260.34M642.65 249.74H639.65M645.65 260.34H642.65" stroke="#7c7c7c" stroke-width="1.15" fill="none"/><circle cx="645.85" cy="249.74" r="1.85" fill="#f4f4f4" stroke="#595959" stroke-width="0.8"/><circle cx="639.45" cy="260.34" r="1.85" fill="#f4f4f4" stroke="#595959" stroke-width="0.8"/><path d="M668.75 251.44V258.64M668.75 251.44H671.75M665.75 258.64H668.75" stroke="#7c7c7c" stroke-width="1.15" fill="none"/><circle cx="665.55" cy="251.44" r="1.85" fill="#f4f4f4" stroke="#595959" stroke-width="0.8"/><circle cx="671.95" cy="258.64" r="1.85" fill="#f4f4f4" stroke="#595959" stroke-width="0.8"/><path d="M108.2 243V377.5" stroke="#222" stroke-width="1" stroke-dasharray="3.5 2.5" fill="none"/><path d="M264.6 243V377.5" stroke="#222" stroke-width="1" stroke-dasharray="3.5 2.5" fill="none"/><path d="M420.8 243V377.5" stroke="#222" stroke-width="1" stroke-dasharray="3.5 2.5" fill="none"/><rect x="56.4" y="214" width="625.6" height="164.1" fill="none" stroke="#000" stroke-width="1.75"/><path d="M52.3 378.1H56.4M54.1 357.59H56.4M52.3 337.08H56.4M54.1 316.56H56.4M52.3 296.05H56.4M54.1 275.54H56.4M52.3 255.03H56.4M54.1 234.51H56.4M52.3 214H56.4" stroke="#000" stroke-width="1.5" fill="none"/><text x="49.1" y="381.2" font-size="11" text-anchor="end" font-weight="bold">0.0</text><text x="49.1" y="340.18" font-size="11" text-anchor="end" font-weight="bold">0.2</text><text x="49.1" y="299.15" font-size="11" text-anchor="end" font-weight="bold">0.4</text><text x="49.1" y="258.12" font-size="11" text-anchor="end" font-weight="bold">0.6</text><text x="49.1" y="217.1" font-size="11" text-anchor="end" font-weight="bold">0.8</text><rect x="64" y="218.9" width="15.8" height="11" fill="#ec9676"/><text x="81.9" y="228.1" font-size="10.4" font-weight="bold" textLength="54.4" lengthAdjust="spacingAndGlyphs">UV/FC/TiO<tspan dy="2.2" font-size="8">2</tspan></text><rect x="144.3" y="218.9" width="15.3" height="11" fill="#ace5c7"/><text x="162.1" y="228.1" font-size="10.4" font-weight="bold" textLength="79.5" lengthAdjust="spacingAndGlyphs">UV/FC/TiO<tspan dy="2.2" font-size="8">2</tspan><tspan dy="-2.2">/C</tspan><tspan dy="2.2" font-size="8">3</tspan><tspan dy="-2.2">N</tspan><tspan dy="2.2" font-size="8">4</tspan></text><rect x="249.6" y="218.9" width="15.3" height="11" fill="#a8c9d3"/><text x="267.4" y="228.1" font-size="10.4" font-weight="bold" textLength="75.3" lengthAdjust="spacingAndGlyphs">UV/FC/TiO<tspan dy="2.2" font-size="8">2</tspan><tspan dy="-2.2">/C</tspan><tspan dy="2.2" font-size="8">2</tspan><tspan dy="-2.2">N</tspan></text><text x="186.3" y="241.5" font-size="10.4" text-anchor="middle" font-weight="bold">pH effects</text><text x="342" y="241.5" font-size="10.4" text-anchor="middle" font-weight="bold">Real waters</text><text x="535.5" y="241.5" font-size="10.4" text-anchor="middle" font-weight="bold">Cycles in tap water</text><text x="81.9" y="393.6" font-size="10.3" text-anchor="middle" font-weight="bold">Control</text><text x="134.1" y="393.6" font-size="10.3" text-anchor="middle" font-weight="bold">pH 6.0</text><text x="186.3" y="393.6" font-size="10.3" text-anchor="middle" font-weight="bold">pH 8.0</text><text x="238.5" y="393.6" font-size="10.3" text-anchor="middle" font-weight="bold">pH 9.0</text><text x="290.7" y="393.6" font-size="10.3" text-anchor="middle" font-weight="bold">Tap</text><text x="342.9" y="393.6" font-size="10.3" text-anchor="middle" font-weight="bold">River</text><text x="395.1" y="393.6" font-size="10.3" text-anchor="middle" font-weight="bold">WWTP</text><text x="434.65" y="393.6" font-size="10.3" font-weight="bold" text-anchor="middle">1<tspan font-size="7.2" dy="-4">st</tspan></text><text x="460.75" y="393.6" font-size="10.3" font-weight="bold" text-anchor="middle">2<tspan font-size="7.2" dy="-4">nd</tspan></text><text x="486.85" y="393.6" font-size="10.3" font-weight="bold" text-anchor="middle">3<tspan font-size="7.2" dy="-4">rd</tspan></text><text x="512.95" y="393.6" font-size="10.3" font-weight="bold" text-anchor="middle">4<tspan font-size="7.2" dy="-4">th</tspan></text><text x="539.05" y="393.6" font-size="10.3" font-weight="bold" text-anchor="middle">5<tspan font-size="7.2" dy="-4">th</tspan></text><text x="565.15" y="393.6" font-size="10.3" font-weight="bold" text-anchor="middle">6<tspan font-size="7.2" dy="-4">th</tspan></text><text x="591.25" y="393.6" font-size="10.3" font-weight="bold" text-anchor="middle">7<tspan font-size="7.2" dy="-4">th</tspan></text><text x="617.35" y="393.6" font-size="10.3" font-weight="bold" text-anchor="middle">8<tspan font-size="7.2" dy="-4">th</tspan></text><text x="643.45" y="393.6" font-size="10.3" font-weight="bold" text-anchor="middle">9<tspan font-size="7.2" dy="-4">th</tspan></text><text x="669.55" y="393.6" font-size="10.3" font-weight="bold" text-anchor="middle">10<tspan font-size="7.2" dy="-4">th</tspan></text><text transform="translate(24.3 296.5) rotate(-90)" font-size="16.5" text-anchor="middle" font-weight="bold"><tspan font-style="italic">k&#8242;</tspan> (min<tspan font-size="10" dy="-6">-1</tspan><tspan dy="6">)</tspan></text><text x="0.8" y="220.8" font-size="26.5" text-anchor="start" font-weight="bold">b</text><rect x="61.1" y="475.3" width="8.2" height="101.8" fill="#ec9676"/><rect x="71.6" y="446.41" width="8.2" height="130.69" fill="#ace5c7"/><rect x="82.1" y="450.3" width="8.2" height="126.8" fill="#a8c9d3"/><rect x="97.6" y="518.72" width="8.2" height="58.38" fill="#ec9676"/><rect x="97.6" y="518.72" width="8.2" height="58.38" fill="url(#hatch)"/><rect x="108.1" y="499.71" width="8.2" height="77.39" fill="#ace5c7"/><rect x="108.1" y="499.71" width="8.2" height="77.39" fill="url(#hatch)"/><rect x="118.7" y="450.3" width="8.2" height="126.8" fill="#a8c9d3"/><rect x="118.7" y="450.3" width="8.2" height="126.8" fill="url(#hatch)"/><rect x="139.5" y="478.9" width="8.2" height="98.2" fill="#ec9676"/><rect x="150" y="453.6" width="8.2" height="123.5" fill="#ace5c7"/><rect x="160.5" y="447.61" width="8.2" height="129.49" fill="#a8c9d3"/><rect x="176" y="529.2" width="8.2" height="47.9" fill="#ec9676"/><rect x="176" y="529.2" width="8.2" height="47.9" fill="url(#hatch)"/><rect x="186.5" y="514.38" width="8.2" height="62.72" fill="#ace5c7"/><rect x="186.5" y="514.38" width="8.2" height="62.72" fill="url(#hatch)"/><rect x="197.1" y="448.51" width="8.2" height="128.59" fill="#a8c9d3"/><rect x="197.1" y="448.51" width="8.2" height="128.59" fill="url(#hatch)"/><rect x="217.9" y="481.29" width="8.2" height="95.81" fill="#ec9676"/><rect x="228.4" y="444.62" width="8.2" height="132.48" fill="#ace5c7"/><rect x="238.9" y="448.81" width="8.2" height="128.29" fill="#a8c9d3"/><rect x="254.4" y="528.6" width="8.2" height="48.5" fill="#ec9676"/><rect x="254.4" y="528.6" width="8.2" height="48.5" fill="url(#hatch)"/><rect x="264.9" y="508.24" width="8.2" height="68.86" fill="#ace5c7"/><rect x="264.9" y="508.24" width="8.2" height="68.86" fill="url(#hatch)"/><rect x="275.5" y="448.06" width="8.2" height="129.04" fill="#a8c9d3"/><rect x="275.5" y="448.06" width="8.2" height="129.04" fill="url(#hatch)"/><rect x="296.3" y="485.48" width="8.2" height="91.62" fill="#ec9676"/><rect x="306.8" y="455.24" width="8.2" height="121.86" fill="#ace5c7"/><rect x="317.3" y="447.61" width="8.2" height="129.49" fill="#a8c9d3"/><rect x="332.8" y="535.78" width="8.2" height="41.32" fill="#ec9676"/><rect x="332.8" y="535.78" width="8.2" height="41.32" fill="url(#hatch)"/><rect x="343.3" y="512.73" width="8.2" height="64.37" fill="#ace5c7"/><rect x="343.3" y="512.73" width="8.2" height="64.37" fill="url(#hatch)"/><rect x="353.9" y="450.45" width="8.2" height="126.65" fill="#a8c9d3"/><rect x="353.9" y="450.45" width="8.2" height="126.65" fill="url(#hatch)"/><rect x="374.7" y="473.81" width="8.2" height="103.29" fill="#ec9676"/><rect x="385.2" y="436.98" width="8.2" height="140.12" fill="#ace5c7"/><rect x="395.7" y="440.87" width="8.2" height="136.23" fill="#a8c9d3"/><rect x="411.2" y="525.15" width="8.2" height="51.95" fill="#ec9676"/><rect x="411.2" y="525.15" width="8.2" height="51.95" fill="url(#hatch)"/><rect x="421.7" y="490.27" width="8.2" height="86.83" fill="#ace5c7"/><rect x="421.7" y="490.27" width="8.2" height="86.83" fill="url(#hatch)"/><rect x="432.3" y="440.87" width="8.2" height="136.23" fill="#a8c9d3"/><rect x="432.3" y="440.87" width="8.2" height="136.23" fill="url(#hatch)"/><rect x="453.1" y="476.5" width="8.2" height="100.6" fill="#ec9676"/><rect x="463.6" y="435.48" width="8.2" height="141.62" fill="#ace5c7"/><rect x="474.1" y="442.07" width="8.2" height="135.03" fill="#a8c9d3"/><rect x="489.6" y="511.38" width="8.2" height="65.72" fill="#ec9676"/><rect x="489.6" y="511.38" width="8.2" height="65.72" fill="url(#hatch)"/><rect x="500.1" y="491.47" width="8.2" height="85.63" fill="#ace5c7"/><rect x="500.1" y="491.47" width="8.2" height="85.63" fill="url(#hatch)"/><rect x="510.7" y="442.07" width="8.2" height="135.03" fill="#a8c9d3"/><rect x="510.7" y="442.07" width="8.2" height="135.03" fill="url(#hatch)"/><rect x="531.5" y="484.74" width="8.2" height="92.36" fill="#ec9676"/><rect x="542" y="439.83" width="8.2" height="137.27" fill="#ace5c7"/><rect x="552.5" y="438.18" width="8.2" height="138.92" fill="#a8c9d3"/><rect x="568" y="535.78" width="8.2" height="41.32" fill="#ec9676"/><rect x="568" y="535.78" width="8.2" height="41.32" fill="url(#hatch)"/><rect x="578.5" y="498.51" width="8.2" height="78.59" fill="#ace5c7"/><rect x="578.5" y="498.51" width="8.2" height="78.59" fill="url(#hatch)"/><rect x="589.1" y="436.98" width="8.2" height="140.12" fill="#a8c9d3"/><rect x="589.1" y="436.98" width="8.2" height="140.12" fill="url(#hatch)"/><rect x="609.9" y="491.92" width="8.2" height="85.18" fill="#ec9676"/><rect x="620.4" y="445.36" width="8.2" height="131.74" fill="#ace5c7"/><rect x="630.9" y="441.32" width="8.2" height="135.78" fill="#a8c9d3"/><rect x="646.4" y="531.14" width="8.2" height="45.96" fill="#ec9676"/><rect x="646.4" y="531.14" width="8.2" height="45.96" fill="url(#hatch)"/><rect x="656.9" y="501.8" width="8.2" height="75.3" fill="#ace5c7"/><rect x="656.9" y="501.8" width="8.2" height="75.3" fill="url(#hatch)"/><rect x="667.5" y="445.36" width="8.2" height="131.74" fill="#a8c9d3"/><rect x="667.5" y="445.36" width="8.2" height="131.74" fill="url(#hatch)"/><path d="M65.2 469.8V480.8M65.2 469.8H68.2M62.2 480.8H65.2" stroke="#7c7c7c" stroke-width="1.15" fill="none"/><circle cx="62" cy="469.8" r="1.85" fill="#f4f4f4" stroke="#595959" stroke-width="0.8"/><circle cx="68.4" cy="480.8" r="1.85" fill="#f4f4f4" stroke="#595959" stroke-width="0.8"/><path d="M75.7 443.71V449.11M75.7 443.71H72.7M78.7 449.11H75.7" stroke="#7c7c7c" stroke-width="1.15" fill="none"/><circle cx="78.9" cy="443.71" r="1.85" fill="#f4f4f4" stroke="#595959" stroke-width="0.8"/><circle cx="72.5" cy="449.11" r="1.85" fill="#f4f4f4" stroke="#595959" stroke-width="0.8"/><path d="M86.2 448.6V452M86.2 448.6H83.2M89.2 452H86.2" stroke="#7c7c7c" stroke-width="1.15" fill="none"/><circle cx="89.4" cy="448.6" r="1.85" fill="#f4f4f4" stroke="#595959" stroke-width="0.8"/><circle cx="83" cy="452" r="1.85" fill="#f4f4f4" stroke="#595959" stroke-width="0.8"/><path d="M101.7 514.22V523.22M101.7 514.22H104.7M98.7 523.22H101.7" stroke="#7c7c7c" stroke-width="1.15" fill="none"/><circle cx="98.5" cy="514.22" r="1.85" fill="#f4f4f4" stroke="#595959" stroke-width="0.8"/><circle cx="104.9" cy="523.22" r="1.85" fill="#f4f4f4" stroke="#595959" stroke-width="0.8"/><path d="M112.2 497.21V502.21M112.2 497.21H115.2M109.2 502.21H112.2" stroke="#7c7c7c" stroke-width="1.15" fill="none"/><circle cx="109" cy="497.21" r="1.85" fill="#f4f4f4" stroke="#595959" stroke-width="0.8"/><circle cx="115.4" cy="502.21" r="1.85" fill="#f4f4f4" stroke="#595959" stroke-width="0.8"/><path d="M122.8 445.8V454.8M122.8 445.8H119.8M125.8 454.8H122.8" stroke="#7c7c7c" stroke-width="1.15" fill="none"/><circle cx="126" cy="445.8" r="1.85" fill="#f4f4f4" stroke="#595959" stroke-width="0.8"/><circle cx="119.6" cy="454.8" r="1.85" fill="#f4f4f4" stroke="#595959" stroke-width="0.8"/><path d="M143.6 472.7V485.1M143.6 472.7H146.6M140.6 485.1H143.6" stroke="#7c7c7c" stroke-width="1.15" fill="none"/><circle cx="140.4" cy="472.7" r="1.85" fill="#f4f4f4" stroke="#595959" stroke-width="0.8"/><circle cx="146.8" cy="485.1" r="1.85" fill="#f4f4f4" stroke="#595959" stroke-width="0.8"/><path d="M154.1 449.4V457.8M154.1 449.4H151.1M157.1 457.8H154.1" stroke="#7c7c7c" stroke-width="1.15" fill="none"/><circle cx="157.3" cy="449.4" r="1.85" fill="#f4f4f4" stroke="#595959" stroke-width="0.8"/><circle cx="150.9" cy="457.8" r="1.85" fill="#f4f4f4" stroke="#595959" stroke-width="0.8"/><path d="M164.6 443.61V451.61M164.6 443.61H167.6M161.6 451.61H164.6" stroke="#7c7c7c" stroke-width="1.15" fill="none"/><circle cx="161.4" cy="443.61" r="1.85" fill="#f4f4f4" stroke="#595959" stroke-width="0.8"/><circle cx="167.8" cy="451.61" r="1.85" fill="#f4f4f4" stroke="#595959" stroke-width="0.8"/><path d="M180.1 525V533.4M180.1 525H177.1M183.1 533.4H180.1" stroke="#7c7c7c" stroke-width="1.15" fill="none"/><circle cx="183.3" cy="525" r="1.85" fill="#f4f4f4" stroke="#595959" stroke-width="0.8"/><circle cx="176.9" cy="533.4" r="1.85" fill="#f4f4f4" stroke="#595959" stroke-width="0.8"/><path d="M190.6 507.88V520.88M190.6 507.88H193.6M187.6 520.88H190.6" stroke="#7c7c7c" stroke-width="1.15" fill="none"/><circle cx="187.4" cy="507.88" r="1.85" fill="#f4f4f4" stroke="#595959" stroke-width="0.8"/><circle cx="193.8" cy="520.88" r="1.85" fill="#f4f4f4" stroke="#595959" stroke-width="0.8"/><path d="M201.2 447.21V449.81M201.2 447.21H198.2M204.2 449.81H201.2" stroke="#7c7c7c" stroke-width="1.15" fill="none"/><circle cx="204.4" cy="447.21" r="1.85" fill="#f4f4f4" stroke="#595959" stroke-width="0.8"/><circle cx="198" cy="449.81" r="1.85" fill="#f4f4f4" stroke="#595959" stroke-width="0.8"/><path d="M222 477.69V484.89M222 477.69H219M225 484.89H222" stroke="#7c7c7c" stroke-width="1.15" fill="none"/><circle cx="225.2" cy="477.69" r="1.85" fill="#f4f4f4" stroke="#595959" stroke-width="0.8"/><circle cx="218.8" cy="484.89" r="1.85" fill="#f4f4f4" stroke="#595959" stroke-width="0.8"/><path d="M232.5 438.72V450.52M232.5 438.72H229.5M235.5 450.52H232.5" stroke="#7c7c7c" stroke-width="1.15" fill="none"/><circle cx="235.7" cy="438.72" r="1.85" fill="#f4f4f4" stroke="#595959" stroke-width="0.8"/><circle cx="229.3" cy="450.52" r="1.85" fill="#f4f4f4" stroke="#595959" stroke-width="0.8"/><path d="M243 441.61V456.01M243 441.61H246M240 456.01H243" stroke="#7c7c7c" stroke-width="1.15" fill="none"/><circle cx="239.8" cy="441.61" r="1.85" fill="#f4f4f4" stroke="#595959" stroke-width="0.8"/><circle cx="246.2" cy="456.01" r="1.85" fill="#f4f4f4" stroke="#595959" stroke-width="0.8"/><path d="M258.5 528V529.2M258.5 528H261.5M255.5 529.2H258.5" stroke="#7c7c7c" stroke-width="1.15" fill="none"/><circle cx="255.3" cy="528" r="1.85" fill="#f4f4f4" stroke="#595959" stroke-width="0.8"/><circle cx="261.7" cy="529.2" r="1.85" fill="#f4f4f4" stroke="#595959" stroke-width="0.8"/><path d="M269 501.24V515.24M269 501.24H266M272 515.24H269" stroke="#7c7c7c" stroke-width="1.15" fill="none"/><circle cx="272.2" cy="501.24" r="1.85" fill="#f4f4f4" stroke="#595959" stroke-width="0.8"/><circle cx="265.8" cy="515.24" r="1.85" fill="#f4f4f4" stroke="#595959" stroke-width="0.8"/><path d="M279.6 439.76V456.36M279.6 439.76H276.6M282.6 456.36H279.6" stroke="#7c7c7c" stroke-width="1.15" fill="none"/><circle cx="282.8" cy="439.76" r="1.85" fill="#f4f4f4" stroke="#595959" stroke-width="0.8"/><circle cx="276.4" cy="456.36" r="1.85" fill="#f4f4f4" stroke="#595959" stroke-width="0.8"/><path d="M300.4 481.08V489.88M300.4 481.08H303.4M297.4 489.88H300.4" stroke="#7c7c7c" stroke-width="1.15" fill="none"/><circle cx="297.2" cy="481.08" r="1.85" fill="#f4f4f4" stroke="#595959" stroke-width="0.8"/><circle cx="303.6" cy="489.88" r="1.85" fill="#f4f4f4" stroke="#595959" stroke-width="0.8"/><path d="M310.9 453.14V457.34M310.9 453.14H307.9M313.9 457.34H310.9" stroke="#7c7c7c" stroke-width="1.15" fill="none"/><circle cx="314.1" cy="453.14" r="1.85" fill="#f4f4f4" stroke="#595959" stroke-width="0.8"/><circle cx="307.7" cy="457.34" r="1.85" fill="#f4f4f4" stroke="#595959" stroke-width="0.8"/><path d="M321.4 444.61V450.61M321.4 444.61H324.4M318.4 450.61H321.4" stroke="#7c7c7c" stroke-width="1.15" fill="none"/><circle cx="318.2" cy="444.61" r="1.85" fill="#f4f4f4" stroke="#595959" stroke-width="0.8"/><circle cx="324.6" cy="450.61" r="1.85" fill="#f4f4f4" stroke="#595959" stroke-width="0.8"/><path d="M336.9 531.78V539.78M336.9 531.78H339.9M333.9 539.78H336.9" stroke="#7c7c7c" stroke-width="1.15" fill="none"/><circle cx="333.7" cy="531.78" r="1.85" fill="#f4f4f4" stroke="#595959" stroke-width="0.8"/><circle cx="340.1" cy="539.78" r="1.85" fill="#f4f4f4" stroke="#595959" stroke-width="0.8"/><path d="M347.4 507.63V517.83M347.4 507.63H344.4M350.4 517.83H347.4" stroke="#7c7c7c" stroke-width="1.15" fill="none"/><circle cx="350.6" cy="507.63" r="1.85" fill="#f4f4f4" stroke="#595959" stroke-width="0.8"/><circle cx="344.2" cy="517.83" r="1.85" fill="#f4f4f4" stroke="#595959" stroke-width="0.8"/><path d="M358 448.95V451.95M358 448.95H355M361 451.95H358" stroke="#7c7c7c" stroke-width="1.15" fill="none"/><circle cx="361.2" cy="448.95" r="1.85" fill="#f4f4f4" stroke="#595959" stroke-width="0.8"/><circle cx="354.8" cy="451.95" r="1.85" fill="#f4f4f4" stroke="#595959" stroke-width="0.8"/><path d="M378.8 472.01V475.61M378.8 472.01H381.8M375.8 475.61H378.8" stroke="#7c7c7c" stroke-width="1.15" fill="none"/><circle cx="375.6" cy="472.01" r="1.85" fill="#f4f4f4" stroke="#595959" stroke-width="0.8"/><circle cx="382" cy="475.61" r="1.85" fill="#f4f4f4" stroke="#595959" stroke-width="0.8"/><path d="M389.3 432.23V441.73M389.3 432.23H392.3M386.3 441.73H389.3" stroke="#7c7c7c" stroke-width="1.15" fill="none"/><circle cx="386.1" cy="432.23" r="1.85" fill="#f4f4f4" stroke="#595959" stroke-width="0.8"/><circle cx="392.5" cy="441.73" r="1.85" fill="#f4f4f4" stroke="#595959" stroke-width="0.8"/><path d="M399.8 438.77V442.97M399.8 438.77H396.8M402.8 442.97H399.8" stroke="#7c7c7c" stroke-width="1.15" fill="none"/><circle cx="403" cy="438.77" r="1.85" fill="#f4f4f4" stroke="#595959" stroke-width="0.8"/><circle cx="396.6" cy="442.97" r="1.85" fill="#f4f4f4" stroke="#595959" stroke-width="0.8"/><path d="M415.3 520.95V529.35M415.3 520.95H418.3M412.3 529.35H415.3" stroke="#7c7c7c" stroke-width="1.15" fill="none"/><circle cx="412.1" cy="520.95" r="1.85" fill="#f4f4f4" stroke="#595959" stroke-width="0.8"/><circle cx="418.5" cy="529.35" r="1.85" fill="#f4f4f4" stroke="#595959" stroke-width="0.8"/><path d="M425.8 485.27V495.27M425.8 485.27H422.8M428.8 495.27H425.8" stroke="#7c7c7c" stroke-width="1.15" fill="none"/><circle cx="429" cy="485.27" r="1.85" fill="#f4f4f4" stroke="#595959" stroke-width="0.8"/><circle cx="422.6" cy="495.27" r="1.85" fill="#f4f4f4" stroke="#595959" stroke-width="0.8"/><path d="M436.4 435.77V445.97M436.4 435.77H439.4M433.4 445.97H436.4" stroke="#7c7c7c" stroke-width="1.15" fill="none"/><circle cx="433.2" cy="435.77" r="1.85" fill="#f4f4f4" stroke="#595959" stroke-width="0.8"/><circle cx="439.6" cy="445.97" r="1.85" fill="#f4f4f4" stroke="#595959" stroke-width="0.8"/><path d="M457.2 471.5V481.5M457.2 471.5H460.2M454.2 481.5H457.2" stroke="#7c7c7c" stroke-width="1.15" fill="none"/><circle cx="454" cy="471.5" r="1.85" fill="#f4f4f4" stroke="#595959" stroke-width="0.8"/><circle cx="460.4" cy="481.5" r="1.85" fill="#f4f4f4" stroke="#595959" stroke-width="0.8"/><path d="M467.7 431.08V439.88M467.7 431.08H464.7M470.7 439.88H467.7" stroke="#7c7c7c" stroke-width="1.15" fill="none"/><circle cx="470.9" cy="431.08" r="1.85" fill="#f4f4f4" stroke="#595959" stroke-width="0.8"/><circle cx="464.5" cy="439.88" r="1.85" fill="#f4f4f4" stroke="#595959" stroke-width="0.8"/><path d="M478.2 438.87V445.27M478.2 438.87H475.2M481.2 445.27H478.2" stroke="#7c7c7c" stroke-width="1.15" fill="none"/><circle cx="481.4" cy="438.87" r="1.85" fill="#f4f4f4" stroke="#595959" stroke-width="0.8"/><circle cx="475" cy="445.27" r="1.85" fill="#f4f4f4" stroke="#595959" stroke-width="0.8"/><path d="M493.7 503.98V518.78M493.7 503.98H496.7M490.7 518.78H493.7" stroke="#7c7c7c" stroke-width="1.15" fill="none"/><circle cx="490.5" cy="503.98" r="1.85" fill="#f4f4f4" stroke="#595959" stroke-width="0.8"/><circle cx="496.9" cy="518.78" r="1.85" fill="#f4f4f4" stroke="#595959" stroke-width="0.8"/><path d="M504.2 484.47V498.47M504.2 484.47H507.2M501.2 498.47H504.2" stroke="#7c7c7c" stroke-width="1.15" fill="none"/><circle cx="501" cy="484.47" r="1.85" fill="#f4f4f4" stroke="#595959" stroke-width="0.8"/><circle cx="507.4" cy="498.47" r="1.85" fill="#f4f4f4" stroke="#595959" stroke-width="0.8"/><path d="M514.8 439.07V445.07M514.8 439.07H511.8M517.8 445.07H514.8" stroke="#7c7c7c" stroke-width="1.15" fill="none"/><circle cx="518" cy="439.07" r="1.85" fill="#f4f4f4" stroke="#595959" stroke-width="0.8"/><circle cx="511.6" cy="445.07" r="1.85" fill="#f4f4f4" stroke="#595959" stroke-width="0.8"/><path d="M535.6 480.94V488.54M535.6 480.94H532.6M538.6 488.54H535.6" stroke="#7c7c7c" stroke-width="1.15" fill="none"/><circle cx="538.8" cy="480.94" r="1.85" fill="#f4f4f4" stroke="#595959" stroke-width="0.8"/><circle cx="532.4" cy="488.54" r="1.85" fill="#f4f4f4" stroke="#595959" stroke-width="0.8"/><path d="M546.1 437.03V442.63M546.1 437.03H543.1M549.1 442.63H546.1" stroke="#7c7c7c" stroke-width="1.15" fill="none"/><circle cx="549.3" cy="437.03" r="1.85" fill="#f4f4f4" stroke="#595959" stroke-width="0.8"/><circle cx="542.9" cy="442.63" r="1.85" fill="#f4f4f4" stroke="#595959" stroke-width="0.8"/><path d="M556.6 432.48V443.88M556.6 432.48H553.6M559.6 443.88H556.6" stroke="#7c7c7c" stroke-width="1.15" fill="none"/><circle cx="559.8" cy="432.48" r="1.85" fill="#f4f4f4" stroke="#595959" stroke-width="0.8"/><circle cx="553.4" cy="443.88" r="1.85" fill="#f4f4f4" stroke="#595959" stroke-width="0.8"/><path d="M572.1 528.98V542.58M572.1 528.98H575.1M569.1 542.58H572.1" stroke="#7c7c7c" stroke-width="1.15" fill="none"/><circle cx="568.9" cy="528.98" r="1.85" fill="#f4f4f4" stroke="#595959" stroke-width="0.8"/><circle cx="575.3" cy="542.58" r="1.85" fill="#f4f4f4" stroke="#595959" stroke-width="0.8"/><path d="M582.6 496.11V500.91M582.6 496.11H579.6M585.6 500.91H582.6" stroke="#7c7c7c" stroke-width="1.15" fill="none"/><circle cx="585.8" cy="496.11" r="1.85" fill="#f4f4f4" stroke="#595959" stroke-width="0.8"/><circle cx="579.4" cy="500.91" r="1.85" fill="#f4f4f4" stroke="#595959" stroke-width="0.8"/><path d="M593.2 433.78V440.18M593.2 433.78H596.2M590.2 440.18H593.2" stroke="#7c7c7c" stroke-width="1.15" fill="none"/><circle cx="590" cy="433.78" r="1.85" fill="#f4f4f4" stroke="#595959" stroke-width="0.8"/><circle cx="596.4" cy="440.18" r="1.85" fill="#f4f4f4" stroke="#595959" stroke-width="0.8"/><path d="M614 484.22V499.62M614 484.22H617M611 499.62H614" stroke="#7c7c7c" stroke-width="1.15" fill="none"/><circle cx="610.8" cy="484.22" r="1.85" fill="#f4f4f4" stroke="#595959" stroke-width="0.8"/><circle cx="617.2" cy="499.62" r="1.85" fill="#f4f4f4" stroke="#595959" stroke-width="0.8"/><path d="M624.5 444.36V446.36M624.5 444.36H627.5M621.5 446.36H624.5" stroke="#7c7c7c" stroke-width="1.15" fill="none"/><circle cx="621.3" cy="444.36" r="1.85" fill="#f4f4f4" stroke="#595959" stroke-width="0.8"/><circle cx="627.7" cy="446.36" r="1.85" fill="#f4f4f4" stroke="#595959" stroke-width="0.8"/><path d="M635 439.82V442.82M635 439.82H632M638 442.82H635" stroke="#7c7c7c" stroke-width="1.15" fill="none"/><circle cx="638.2" cy="439.82" r="1.85" fill="#f4f4f4" stroke="#595959" stroke-width="0.8"/><circle cx="631.8" cy="442.82" r="1.85" fill="#f4f4f4" stroke="#595959" stroke-width="0.8"/><path d="M650.5 527.24V535.04M650.5 527.24H653.5M647.5 535.04H650.5" stroke="#7c7c7c" stroke-width="1.15" fill="none"/><circle cx="647.3" cy="527.24" r="1.85" fill="#f4f4f4" stroke="#595959" stroke-width="0.8"/><circle cx="653.7" cy="535.04" r="1.85" fill="#f4f4f4" stroke="#595959" stroke-width="0.8"/><path d="M661 499.2V504.4M661 499.2H658M664 504.4H661" stroke="#7c7c7c" stroke-width="1.15" fill="none"/><circle cx="664.2" cy="499.2" r="1.85" fill="#f4f4f4" stroke="#595959" stroke-width="0.8"/><circle cx="657.8" cy="504.4" r="1.85" fill="#f4f4f4" stroke="#595959" stroke-width="0.8"/><path d="M671.6 442.56V448.16M671.6 442.56H668.6M674.6 448.16H671.6" stroke="#7c7c7c" stroke-width="1.15" fill="none"/><circle cx="674.8" cy="442.56" r="1.85" fill="#f4f4f4" stroke="#595959" stroke-width="0.8"/><circle cx="668.4" cy="448.16" r="1.85" fill="#f4f4f4" stroke="#595959" stroke-width="0.8"/><rect x="54.9" y="412.4" width="627.1" height="164.7" fill="none" stroke="#000" stroke-width="1.75"/><path d="M50.8 577.1H54.9M52.6 562.13H54.9M50.8 547.16H54.9M52.6 532.19H54.9M50.8 517.22H54.9M52.6 502.25H54.9M50.8 487.28H54.9M52.6 472.31H54.9M50.8 457.34H54.9M52.6 442.37H54.9M50.8 427.4H54.9M52.6 412.43H54.9" stroke="#000" stroke-width="1.5" fill="none"/><text x="47.3" y="580.2" font-size="11" text-anchor="end" font-weight="bold">0</text><text x="47.3" y="550.26" font-size="11" text-anchor="end" font-weight="bold">20</text><text x="47.3" y="520.32" font-size="11" text-anchor="end" font-weight="bold">40</text><text x="47.3" y="490.38" font-size="11" text-anchor="end" font-weight="bold">60</text><text x="47.3" y="460.44" font-size="11" text-anchor="end" font-weight="bold">80</text><text x="47.3" y="430.5" font-size="11" text-anchor="end" font-weight="bold">100</text><rect x="62.5" y="419.6" width="15.8" height="11" fill="#ec9676"/><text x="80.4" y="428.8" font-size="10.4" font-weight="bold" textLength="54.4" lengthAdjust="spacingAndGlyphs">UV/FC/TiO<tspan dy="2.2" font-size="8">2</tspan></text><rect x="142.8" y="419.6" width="15.3" height="11" fill="#ace5c7"/><text x="160.6" y="428.8" font-size="10.4" font-weight="bold" textLength="79.5" lengthAdjust="spacingAndGlyphs">UV/FC/TiO<tspan dy="2.2" font-size="8">2</tspan><tspan dy="-2.2">/C</tspan><tspan dy="2.2" font-size="8">3</tspan><tspan dy="-2.2">N</tspan><tspan dy="2.2" font-size="8">4</tspan></text><rect x="248.1" y="419.6" width="15.3" height="11" fill="#a8c9d3"/><text x="265.9" y="428.8" font-size="10.4" font-weight="bold" textLength="75.3" lengthAdjust="spacingAndGlyphs">UV/FC/TiO<tspan dy="2.2" font-size="8">2</tspan><tspan dy="-2.2">/C</tspan><tspan dy="2.2" font-size="8">2</tspan><tspan dy="-2.2">N</tspan></text><rect x="349.5" y="419.6" width="15.2" height="10.9" fill="url(#hatchL)" stroke="#555" stroke-width="0.75"/><text x="367.7" y="428.9" font-size="10.4" font-weight="bold" textLength="56.3" lengthAdjust="spacingAndGlyphs">In tap water</text><text x="94.1" y="591.2" font-size="10.3" text-anchor="middle" font-weight="bold">Carbamazepine</text><text x="172.5" y="591.2" font-size="10.3" text-anchor="middle" font-weight="bold">Diclofenac</text><text x="250.9" y="591.2" font-size="10.3" text-anchor="middle" font-weight="bold">Naproxen</text><text x="329.3" y="591.2" font-size="10.3" text-anchor="middle" font-weight="bold">Tetracycline</text><text x="407.7" y="591.2" font-size="10.3" text-anchor="middle" font-weight="bold">Gemfibrozil</text><text x="486.1" y="591.2" font-size="10.3" text-anchor="middle" font-weight="bold">Propranolol</text><text x="564.5" y="591.2" font-size="10.3" text-anchor="middle" font-weight="bold">Ciprofloxacin</text><text x="642.9" y="591.2" font-size="10.3" text-anchor="middle" font-weight="bold">Ibuprofen</text><text transform="translate(22.2 494.3) rotate(-90)" font-size="16.3" text-anchor="middle" font-weight="bold">Removal (%)</text><text x="1" y="421.4" font-size="26.5" text-anchor="start" font-weight="bold">c</text><text x="1" y="622.5" font-size="26.5" text-anchor="start" font-weight="bold">d</text><rect x="49.05" y="609.05" width="633.1" height="147" fill="none" stroke="#7c98da" stroke-width="1.6" stroke-dasharray="4.1 2.8" stroke-dashoffset="-2.9"/><text x="158.6" y="626" font-size="12.1" font-weight="bold">UV/FC/TiO<tspan dy="2.8" font-size="8">2</tspan><tspan dy="-2.8">/C</tspan><tspan dy="2.8" font-size="8">3</tspan><tspan dy="-2.8">N</tspan><tspan dy="2.8" font-size="8">4</tspan></text><text x="481" y="626" font-size="12.1" font-weight="bold">UV/FC/TiO<tspan dy="2.8" font-size="8">2</tspan><tspan dy="-2.8">/C</tspan><tspan dy="2.8" font-size="8">2</tspan><tspan dy="-2.8">N</tspan></text><circle cx="209.5" cy="688" r="50.7" fill="url(#sph1)"/><path d="M209.8 634 L209.8 637.1 L214.7 640.2 L217.7 648 L218.5 654 L240.9 687.4 L241.7 678.6 L251.4 680.2 L258.6 684.2 L260.3 688.3 L263.5 688.3 L263.5 634 Z" fill="#fff"/><path d="M196 699.4 L200.8 648 Q202.7 639.5 208 637.6 Q215.5 637.8 217.7 648 Q218.9 652 218.1 657 L201.6 693 Z" fill="url(#vf1)"/><path d="M196 699.4 Q231.5 698.5 260.3 691.4 L260.3 688.3 Q249.5 687.2 240.9 687.4 L201.6 693 Z" fill="url(#hf1)"/><path d="M240.9 687.4 L241.7 678.6 Q255.5 679.4 260.3 688.3 Q251.5 687.4 240.9 687.4 Z" fill="url(#is1)"/><path d="M206.3 655.5 C221.5 650.5 243.5 662 240.9 687.4 Q221.5 690.2 201.6 693 Q203 674 206.3 655.5 Z" fill="url(#core)"/><circle cx="529.7" cy="687.8" r="50.7" fill="url(#sph2)"/><path d="M530 633.8 L530 636.9 L534.9 640 L537.9 647.8 L538.7 653.8 L561.1 687.2 L561.9 678.4 L571.6 680 L578.8 684 L580.5 688.1 L583.7 688.1 L583.7 633.8 Z" fill="#fff"/><path d="M516.2 699.2 L521 647.8 Q522.9 639.3 528.2 637.4 Q535.7 637.6 537.9 647.8 Q539.1 651.8 538.3 656.8 L521.8 692.8 Z" fill="url(#vf2)"/><path d="M516.2 699.2 Q551.7 698.3 580.5 691.2 L580.5 688.1 Q569.7 687 561.1 687.2 L521.8 692.8 Z" fill="url(#hf2)"/><path d="M561.1 687.2 L561.9 678.4 Q575.7 679.2 580.5 688.1 Q571.7 687.2 561.1 687.2 Z" fill="url(#is2)"/><path d="M526.5 655.3 C541.7 650.3 563.7 661.8 561.1 687.2 Q541.7 690 521.8 692.8 Q523.2 673.8 526.5 655.3 Z" fill="url(#core)"/><circle cx="98.7" cy="669" r="47.4" fill="none" stroke="#e8823c" stroke-width="1.4" stroke-dasharray="4.6 3.4"/><path d="M132.7 641.4A49.9 49.9 0 0 0 127.8 699.3" stroke="#9a9a9a" stroke-width="1.6" fill="none"/><circle cx="124.4" cy="645.3" r="3.8" fill="url(#gE)"/><circle cx="117" cy="660.7" r="3.8" fill="url(#gE)"/><circle cx="115.8" cy="676" r="3.8" fill="url(#gE)"/><circle cx="118.3" cy="690.9" r="3.8" fill="url(#gE)"/><path d="M94.8 629.6L108.2 631.6" stroke="#b0121a" stroke-width="1.6"/><circle cx="94.8" cy="629.6" r="4.2" fill="url(#gO)"/><text x="94.8" y="631.22" font-size="4.5" font-weight="bold" fill="#fff" text-anchor="middle">O</text><circle cx="108.2" cy="631.6" r="4.2" fill="url(#gO)"/><text x="108.2" y="633.22" font-size="4.5" font-weight="bold" fill="#fff" text-anchor="middle">O</text><path d="M93.7 659L106.6 663.7" stroke="#b0121a" stroke-width="1.6"/><circle cx="93.7" cy="659" r="4.2" fill="url(#gO)"/><text x="93.7" y="660.62" font-size="4.5" font-weight="bold" fill="#fff" text-anchor="middle">O</text><circle cx="106.6" cy="663.7" r="4.2" fill="url(#gO)"/><text x="106.6" y="665.32" font-size="4.5" font-weight="bold" fill="#fff" text-anchor="middle">O</text><path d="M65.7 650.3L80 642.6" stroke="#3d8a1a" stroke-width="1.6"/><circle cx="65.7" cy="650.3" r="5.4" fill="url(#gCl)"/><text x="65.7" y="652.1" font-size="5" font-weight="bold" fill="#fff" text-anchor="middle">Cl</text><circle cx="80" cy="642.6" r="4.2" fill="url(#gO)"/><text x="80" y="644.22" font-size="4.5" font-weight="bold" fill="#fff" text-anchor="middle">O</text><text x="87.6" y="649.5" font-size="3.8" text-anchor="middle" font-weight="bold">H</text><path d="M75.7 676.3L88 680" stroke="#333" stroke-width="0.9"/><circle cx="75.7" cy="676.3" r="4.2" fill="url(#gO)"/><text x="75.7" y="677.92" font-size="4.5" font-weight="bold" fill="#fff" text-anchor="middle">O</text><text x="88.7" y="682.5" font-size="4.5" text-anchor="middle" font-weight="bold">R</text><circle cx="91.8" cy="652.6" r="0.7" fill="#111"/><circle cx="73.4" cy="670.2" r="0.7" fill="#111"/><path d="M110 660.4H112.6" stroke="#111" stroke-width="0.7"/><circle cx="77.2" cy="700.8" r="6.9" fill="url(#gNOM)"/><text x="77.2" y="702.42" font-size="4.5" font-weight="bold" fill="#fff" text-anchor="middle">NOM</text><circle cx="104.5" cy="688.3" r="2.1" fill="url(#gAn)"/><circle cx="108.6" cy="691.2" r="2.1" fill="url(#gAn)"/><circle cx="104" cy="693.2" r="2.1" fill="url(#gAn)"/><ellipse cx="99.4" cy="708.8" rx="9.25" ry="4.5" fill="#b8951d"/><circle cx="106.04" cy="709.45" r="2.97" fill="#b8951d"/><circle cx="103.17" cy="710.65" r="3.46" fill="#b8951d"/><circle cx="98.53" cy="710.98" r="2.97" fill="#b8951d"/><circle cx="94.3" cy="710.3" r="3.46" fill="#b8951d"/><circle cx="92.46" cy="708.91" r="2.97" fill="#b8951d"/><circle cx="93.86" cy="707.47" r="3.46" fill="#b8951d"/><circle cx="97.86" cy="706.65" r="2.97" fill="#b8951d"/><circle cx="102.58" cy="706.84" r="3.46" fill="#b8951d"/><circle cx="105.81" cy="707.95" r="2.97" fill="#b8951d"/><ellipse cx="98.4" cy="708" rx="6.25" ry="2.5" fill="#c6a52e" opacity="0.7"/><path d="M110.9 637.2Q115 648 110 656" stroke="#f0b272" stroke-width="1.1" fill="none"/><path d="M109.4 657.6L112.19 655.21L108.8 653.98Z" fill="#f0b272"/><path d="M77.2 653.3Q87 657 86.5 671" stroke="#f0b272" stroke-width="1.1" fill="none"/><path d="M87 673L88.8 669.8L85.2 669.8Z" fill="#f0b272"/><path d="M81.8 683.2L79.8 691" stroke="#f0b272" stroke-width="1.1" fill="none"/><path d="M79.5 692.4L81.83 689.56L78.28 688.94Z" fill="#f0b272"/><path d="M91.8 684.7L99 689.2" stroke="#f0b272" stroke-width="1.1" fill="none"/><path d="M99.9 689.8L98.03 686.64L96.23 689.76Z" fill="#f0b272"/><path d="M87.9 687L95.8 700.5" stroke="#f0b272" stroke-width="1.1" fill="none"/><path d="M96.3 701.6L96.26 697.93L93.14 699.73Z" fill="#f0b272"/><path d="M129 633.5L181 662.5M130.5 703.5L185 679.5" stroke="#e8823c" stroke-width="1.4" stroke-dasharray="4.6 3.4" fill="none"/><circle cx="180.8" cy="672" r="8.5" fill="none" stroke="#e8823c" stroke-width="1.3" stroke-dasharray="3.5 2.6"/><circle cx="312.3" cy="668.9" r="47.4" fill="none" stroke="#e8823c" stroke-width="1.4" stroke-dasharray="4.6 3.4"/><circle cx="224.7" cy="673" r="8.6" fill="none" stroke="#e8823c" stroke-width="1.3" stroke-dasharray="3.5 2.6"/><path d="M229.5 661L288.5 628.3M226.5 680.5L289.5 708.5" stroke="#e8823c" stroke-width="1.4" stroke-dasharray="4.6 3.4" fill="none"/><path d="M280.9 641.8A37.5 37.5 0 0 1 282.5 699.4" stroke="#6cc4bc" stroke-width="1.8" fill="none"/><path d="M307 624.4A49 49 0 0 1 313.6 714.3" stroke="#9a9a9a" stroke-width="1.7" fill="none"/><path d="M295.67 643.63L296.81 644.43L297.57 644.16L297.95 642.83L298.34 641.5L299.1 641.23L300.23 642.03L301.37 642.82L302.13 642.55L302.51 641.22L302.9 639.89L303.66 639.63L304.79 640.42L305.93 641.21L306.69 640.95L307.07 639.62L307.46 638.29L308.22 638.02L309.35 638.81L310.49 639.61L311.25 639.34L311.63 638.01L312.02 636.68L312.78 636.41L313.91 637.2L315.05 638L315.81 637.73L316.19 636.4L316.58 635.07L317.34 634.8L318.47 635.6" stroke="#333" stroke-width="0.5" fill="none"/><path d="M321.3 634.6L317.37 634.29L318.44 637.31Z" fill="#222"/><path d="M301.79 658.42L302.78 659.39L303.58 659.25L304.2 658.01L304.81 656.76L305.61 656.62L306.6 657.6L307.59 658.57L308.39 658.43L309.01 657.19L309.62 655.94L310.42 655.81L311.41 656.78L312.4 657.75L313.2 657.62L313.81 656.37L314.43 655.12L315.23 654.99L316.22 655.96L317.21 656.93L318.01 656.8L318.62 655.55L319.23 654.3L320.04 654.17L321.03 655.14L322.02 656.11L322.82 655.98L323.43 654.73L324.04 653.49L324.84 653.35L325.83 654.32L326.82 655.3L327.63 655.16L328.24 653.91L328.85 652.67L329.65 652.53L330.64 653.5" stroke="#333" stroke-width="0.5" fill="none"/><path d="M333.6 653L329.78 652.03L330.32 655.18Z" fill="#222"/><path d="M304.3 671.45L305 672.64L305.81 672.72L306.73 671.68L307.65 670.63L308.46 670.71L309.17 671.91L309.87 673.11L310.68 673.18L311.6 672.14L312.52 671.1L313.33 671.17L314.04 672.37L314.74 673.57L315.55 673.65L316.47 672.6L317.39 671.56L318.2 671.63L318.91 672.83L319.61 674.03L320.42 674.11L321.34 673.06L322.26 672.02L323.07 672.1L323.77 673.29L324.48 674.49L325.29 674.57L326.21 673.52L327.13 672.48L327.94 672.56L328.64 673.76L329.35 674.95L330.16 675.03L331.08 673.99L332 672.94L332.81 673.02L333.51 674.22" stroke="#333" stroke-width="0.5" fill="none"/><path d="M336.5 674.5L333.07 672.57L332.77 675.75Z" fill="#222"/><path d="M301.36 685.88L301.79 687.26L302.62 687.6L303.88 686.89L305.13 686.17L305.97 686.51L306.39 687.89L306.82 689.27L307.65 689.6L308.91 688.89L310.16 688.17L311 688.51L311.42 689.89L311.85 691.27L312.68 691.6L313.94 690.89L315.19 690.18L316.03 690.51L316.45 691.89L316.88 693.27L317.71 693.6L318.97 692.89L320.22 692.18L321.06 692.51L321.48 693.89L321.9 695.27L322.74 695.6L324 694.89L325.25 694.18L326.09 694.51L326.51 695.89" stroke="#333" stroke-width="0.5" fill="none"/><path d="M329.3 697L326.55 694.18L325.36 697.16Z" fill="#222"/><circle cx="291" cy="646" r="3.8" fill="url(#gE)"/><circle cx="297.6" cy="658" r="3.8" fill="url(#gE)"/><circle cx="299.7" cy="671.4" r="3.8" fill="url(#gE)"/><circle cx="297.2" cy="684.7" r="3.8" fill="url(#gE)"/><circle cx="326.9" cy="630.5" r="3.8" fill="url(#gE)"/><circle cx="339.7" cy="650" r="3.8" fill="url(#gE)"/><circle cx="343.2" cy="674.5" r="3.8" fill="url(#gE)"/><circle cx="334.4" cy="698.6" r="3.8" fill="url(#gE)"/><circle cx="419" cy="668.7" r="47.4" fill="none" stroke="#e8823c" stroke-width="1.4" stroke-dasharray="4.6 3.4"/><path d="M441.7 630.5A60.1 60.1 0 0 0 432.6 711.3" stroke="#9a9a9a" stroke-width="1.5" stroke-dasharray="8.5 4.5" fill="none"/><path d="M453 640.8A48.9 48.9 0 0 0 447.9 699" stroke="#6cc4bc" stroke-width="1.8" fill="none"/><circle cx="392.7" cy="645.9" r="7" fill="url(#gNOM)"/><text x="392.7" y="647.52" font-size="4.5" font-weight="bold" fill="#fff" text-anchor="middle">NOM</text><path d="M412 639.7L424.4 633.6" stroke="#b0121a" stroke-width="1.6"/><circle cx="412" cy="639.7" r="4.2" fill="url(#gO)"/><text x="412" y="641.32" font-size="4.5" font-weight="bold" fill="#fff" text-anchor="middle">O</text><circle cx="424.4" cy="633.6" r="4.2" fill="url(#gO)"/><text x="424.4" y="635.22" font-size="4.5" font-weight="bold" fill="#fff" text-anchor="middle">O</text><path d="M392.7 672.4L406 666.3" stroke="#3d8a1a" stroke-width="1.6"/><circle cx="392.7" cy="672.4" r="5.4" fill="url(#gCl)"/><text x="392.7" y="674.2" font-size="5" font-weight="bold" fill="#fff" text-anchor="middle">Cl</text><circle cx="406" cy="666.3" r="4.2" fill="url(#gO)"/><text x="406" y="667.92" font-size="4.5" font-weight="bold" fill="#fff" text-anchor="middle">O</text><text x="412.5" y="672" font-size="3.8" text-anchor="middle" font-weight="bold">H</text><circle cx="391.5" cy="687.5" r="2.1" fill="url(#gAn)"/><circle cx="395.5" cy="690.5" r="2.1" fill="url(#gAn)"/><circle cx="390" cy="692.5" r="2.1" fill="url(#gAn)"/><ellipse cx="412" cy="705" rx="7" ry="3.5" fill="#b8951d"/><circle cx="417.06" cy="705.53" r="2.43" fill="#b8951d"/><circle cx="414.87" cy="706.51" r="2.83" fill="#b8951d"/><circle cx="411.34" cy="706.79" r="2.43" fill="#b8951d"/><circle cx="408.11" cy="706.22" r="2.83" fill="#b8951d"/><circle cx="406.71" cy="705.09" r="2.43" fill="#b8951d"/><circle cx="407.78" cy="703.91" r="2.83" fill="#b8951d"/><circle cx="410.82" cy="703.24" r="2.43" fill="#b8951d"/><circle cx="414.42" cy="703.4" r="2.83" fill="#b8951d"/><circle cx="416.89" cy="704.3" r="2.43" fill="#b8951d"/><ellipse cx="411" cy="704.2" rx="4" ry="1.5" fill="#c6a52e" opacity="0.7"/><path d="M424.4 640.8L442 649.5" stroke="#f0b272" stroke-width="1.1" fill="none"/><path d="M442.8 650L440.77 646.94L439.13 650.15Z" fill="#f0b272"/><path d="M415.2 669.4L437 671.2" stroke="#f0b272" stroke-width="1.1" fill="none"/><path d="M437.7 671.4L434.67 669.33L434.36 672.91Z" fill="#f0b272"/><path d="M421.3 701L439 689" stroke="#f0b272" stroke-width="1.1" fill="none"/><path d="M439.7 688.8L436.04 689.1L438.05 692.08Z" fill="#f0b272"/><path d="M449.4 633.5L501.4 662.5M450.9 703.5L505.4 679.5" stroke="#e8823c" stroke-width="1.4" stroke-dasharray="4.6 3.4" fill="none"/><circle cx="501.1" cy="672" r="8.5" fill="none" stroke="#e8823c" stroke-width="1.3" stroke-dasharray="3.5 2.6"/><circle cx="632.7" cy="668.5" r="47.4" fill="none" stroke="#e8823c" stroke-width="1.4" stroke-dasharray="4.6 3.4"/><circle cx="545" cy="673" r="8.6" fill="none" stroke="#e8823c" stroke-width="1.3" stroke-dasharray="3.5 2.6"/><path d="M549.9 661L608.9 628.3M546.9 680.5L609.9 708.5" stroke="#e8823c" stroke-width="1.4" stroke-dasharray="4.6 3.4" fill="none"/><path d="M600.4 641.3A37.3 37.3 0 0 1 602.4 698.9" stroke="#6cc4bc" stroke-width="1.8" fill="none"/><circle cx="611.5" cy="645.4" r="3.8" fill="url(#gE)"/><circle cx="617.6" cy="657.9" r="3.8" fill="url(#gE)"/><circle cx="619.6" cy="670.6" r="3.8" fill="url(#gE)"/><circle cx="617.6" cy="684.2" r="3.8" fill="url(#gE)"/><path d="M622.6 635.3L634.7 629.2" stroke="#b0121a" stroke-width="1.6"/><circle cx="622.6" cy="635.3" r="4.2" fill="url(#gO)"/><text x="622.6" y="636.92" font-size="4.5" font-weight="bold" fill="#fff" text-anchor="middle">O</text><circle cx="634.7" cy="629.2" r="4.2" fill="url(#gO)"/><text x="634.7" y="630.82" font-size="4.5" font-weight="bold" fill="#fff" text-anchor="middle">O</text><path d="M634.3 653.9L647.2 653.5" stroke="#b0121a" stroke-width="1.6"/><circle cx="634.3" cy="653.9" r="4.2" fill="url(#gO)"/><text x="634.3" y="655.52" font-size="4.5" font-weight="bold" fill="#fff" text-anchor="middle">O</text><circle cx="647.2" cy="653.5" r="4.2" fill="url(#gO)"/><text x="647.2" y="655.12" font-size="4.5" font-weight="bold" fill="#fff" text-anchor="middle">O</text><path d="M655.3 669.2L668.6 662.1" stroke="#3d8a1a" stroke-width="1.6"/><circle cx="655.3" cy="669.2" r="5.4" fill="url(#gCl)"/><text x="655.3" y="671" font-size="5" font-weight="bold" fill="#fff" text-anchor="middle">Cl</text><circle cx="668.6" cy="662.1" r="4.2" fill="url(#gO)"/><text x="668.6" y="663.72" font-size="4.5" font-weight="bold" fill="#fff" text-anchor="middle">O</text><text x="675" y="668" font-size="3.8" text-anchor="middle" font-weight="bold">H</text><path d="M632.7 677.7L643 681" stroke="#333" stroke-width="0.9"/><circle cx="632.7" cy="677.7" r="4.2" fill="url(#gO)"/><text x="632.7" y="679.32" font-size="4.5" font-weight="bold" fill="#fff" text-anchor="middle">O</text><text x="645" y="683" font-size="4.5" text-anchor="middle" font-weight="bold">R</text><circle cx="630.7" cy="649.8" r="0.7" fill="#111"/><circle cx="631" cy="672.6" r="0.7" fill="#111"/><path d="M648.6 647.8H651.2" stroke="#111" stroke-width="0.7"/><ellipse cx="638.8" cy="706" rx="9.5" ry="4.25" fill="#b8951d"/><circle cx="645.82" cy="706.62" r="2.83" fill="#b8951d"/><circle cx="642.78" cy="707.76" r="3.31" fill="#b8951d"/><circle cx="637.88" cy="708.08" r="2.83" fill="#b8951d"/><circle cx="633.41" cy="707.43" r="3.31" fill="#b8951d"/><circle cx="631.46" cy="706.1" r="2.83" fill="#b8951d"/><circle cx="632.94" cy="704.73" r="3.31" fill="#b8951d"/><circle cx="637.17" cy="703.95" r="2.83" fill="#b8951d"/><circle cx="642.16" cy="704.13" r="3.31" fill="#b8951d"/><circle cx="645.58" cy="705.19" r="2.83" fill="#b8951d"/><ellipse cx="637.8" cy="705.2" rx="6.5" ry="2.25" fill="#c6a52e" opacity="0.7"/><path d="M619.5 641.5Q619 653 629 656" stroke="#f0b272" stroke-width="1.1" fill="none"/><path d="M630 656.3L627.37 653.73L626.44 657.21Z" fill="#f0b272"/><path d="M657 663Q645 655 636 670" stroke="#f0b272" stroke-width="1.1" fill="none"/><path d="M635.7 671L638.03 668.16L634.48 667.54Z" fill="#f0b272"/><path d="M638 685.5V696.5" stroke="#f0b272" stroke-width="1.1" fill="none"/><path d="M638 697.5L639.8 694.3L636.2 694.3Z" fill="#f0b272"/><circle cx="225" cy="745.5" r="6.5" fill="url(#gTiL)"/><text x="233" y="750" font-size="10.3" font-weight="bold">TiO<tspan dy="2.5" font-size="7">2</tspan></text><circle cx="264.5" cy="745.5" r="6.5" fill="url(#gC3L)"/><text x="272.5" y="750" font-size="10.3" font-weight="bold">C<tspan dy="2.5" font-size="7">3</tspan><tspan dy="-2.5">N</tspan><tspan dy="2.5" font-size="7">4</tspan></text><circle cx="304.8" cy="745.5" r="6.5" fill="url(#gC2L)"/><text x="312.8" y="750" font-size="10.3" font-weight="bold">C<tspan dy="2.5" font-size="7">2</tspan><tspan dy="-2.5">N</tspan></text><circle cx="341.6" cy="745.5" r="6.5" fill="url(#gE)"/><text x="349.6" y="750" font-size="10.3" font-weight="bold">e<tspan dy="-3.5" font-size="7">-</tspan></text><circle cx="368.6" cy="745.5" r="6.5" fill="url(#gAn)"/><text x="376.6" y="750" font-size="10.3" font-weight="bold">Anions</text><ellipse cx="428.8" cy="745.5" rx="13" ry="4.5" fill="#b8951d"/><circle cx="439.02" cy="746.15" r="2.97" fill="#b8951d"/><circle cx="434.6" cy="747.35" r="3.46" fill="#b8951d"/><circle cx="427.46" cy="747.68" r="2.97" fill="#b8951d"/><circle cx="420.95" cy="747" r="3.46" fill="#b8951d"/><circle cx="418.11" cy="745.61" r="2.97" fill="#b8951d"/><circle cx="420.28" cy="744.17" r="3.46" fill="#b8951d"/><circle cx="426.43" cy="743.35" r="2.97" fill="#b8951d"/><circle cx="433.69" cy="743.54" r="3.46" fill="#b8951d"/><circle cx="438.66" cy="744.65" r="2.97" fill="#b8951d"/><ellipse cx="427.8" cy="744.7" rx="10" ry="2.5" fill="#c6a52e" opacity="0.7"/><text x="445.8" y="750" font-size="10.3" text-anchor="start" font-weight="bold">Micropollutants</text>
</svg></body></html>
